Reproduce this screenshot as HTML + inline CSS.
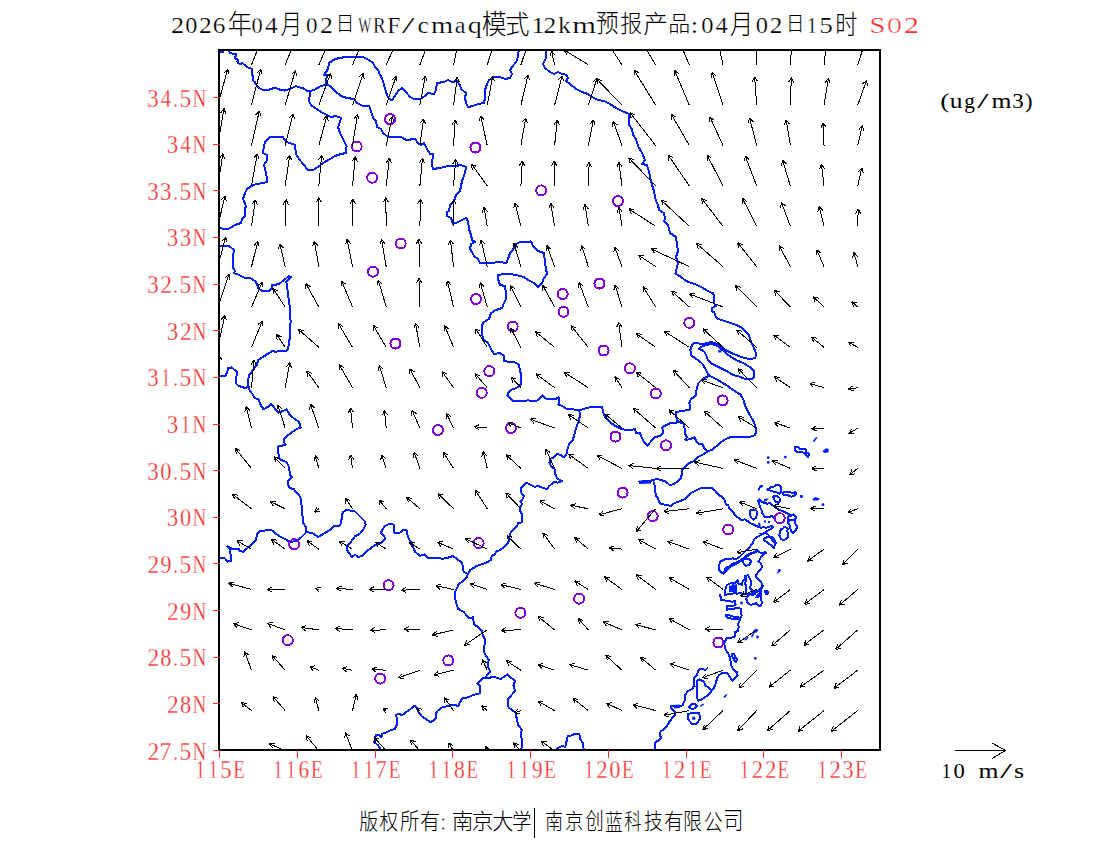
<!DOCTYPE html><html><head><meta charset="utf-8"><title>WRF/cmaq SO2</title><style>html,body{margin:0;padding:0;background:#fff;}svg{display:block;}</style></head><body>
<svg width="1100" height="850" viewBox="0 0 1100 850">
<rect width="1100" height="850" fill="#fff"/>
<defs><clipPath id="pc"><rect x="220" y="51" width="659" height="698"/></clipPath></defs>
<g clip-path="url(#pc)" fill="none" stroke="rgb(0,30,255)" stroke-width="2" stroke-linejoin="round" stroke-linecap="round" shape-rendering="crispEdges">
<polyline points="218,51.3 220.65,51.85 223.3,52.4"/>
<polyline points="228.2,50.6 230.3,53 233.2,53.8 236,53.8 236.3,55.2 234.6,58.4 236.7,58.7 238.1,59.8 237.4,61.9 238.5,63.3 240.6,64 242.3,62.9 244.5,65 248,67.5 251.5,68.6 252.2,70.3 252.2,74.6 252.9,76.7 253.3,80.9 255,82.3 256.5,85.2 259.3,88 263,90 265.67,89.8 268.33,89.6 271,89.4 274,87.4 276.5,88.4 279,89.4 282,90 285,90.6 288,89.6 291,88.6 293.5,87.3 296,86 299,87.4 303,88 305,89.5 307,91 311,91 313.5,90 316,89 319,87 321.5,86 324,85 327,84"/>
<polyline points="311,91 310,93 309.67,95.67 309.33,98.33 309,101 310,103 311,105 313,106.5 315,108 317,109.25 319,110.5 321,111.75 323,113 325,114 327,115 329,116 331,117 333.5,116.5 336,116 338.5,117 341,118 340,122 339,124.5 338,127 339,130 340,133 341,135 342,137 343,139 344.2,141.33 345.4,143.67 346.6,146 346.4,148.33 346.2,150.67 346,153 343.5,153.5 341,154 338,155 335,156 332.5,157.5 330,159 327.67,160.33 325.33,161.67 323,163 320.5,165 318,167 315.5,168.5 313,170 310.5,170 308,170 306.33,168 304.67,166 303,164 301,161.5 299,159 297.5,156.5 296,154 295.75,151.75 295.5,149.5 295.25,147.25 295,145 292.5,144 290,143 286,142 284.5,139.5 283,137 280,137 277,137 274.67,137 272.33,137 270,137 268,138.8 266,140.6 265,142.8 264,145 263.67,147.67 263.33,150.33 263,153 265,154 267,155 266.8,158 266.6,161 265.3,163 264,165 264.67,167.67 265.33,170.33 266,173 266.35,175.25 266.7,177.5 267.05,179.75 267.4,182 264.7,182.5 262,183 259.75,183.5 257.5,184 255.25,184.5 253,185 251,186.33 249,187.67 247,189 246,191 245,193 244,196 243,199 244,201.33 245,203.67 246,206 245,209 245,211.33 245,213.67 245,216 242,219 241,223 238,224 235,225 233,226.2 231,227.4 229,228.6 226,228.6 223,228.6 220,228.3 217,228"/>
<polyline points="327,84 326,81 326.5,78 327,75 324,75 325.33,73 326.67,71 328,69 328.5,66 329,63 331,61.67 333,60.33 335,59 337.5,58.5 340,58 342.5,57.5 345,57 347.5,56.9 350,56.8 352.5,56.7 355,56.6 357.67,56.73 360.33,56.87 363,57 365,58 367,59 369,60 371,61.5 373,63 374,65 375,67 378,70 379,72.5 380,75 382,78 382.67,80.33 383.33,82.67 384,85 384.75,87.5 385.5,90 386.25,92.5 387,95 388,97 389,99 392,100 393.5,98 395,96 396.5,93.5 398,91 400,89.5 402,88 404,90 406,92 408,94.5 410,97 412,98 414,99 417,99 420,99 422.5,97.5 425,96 428,93 431,93.5 434,94 435,92 436,90 436.33,87.67 436.67,85.33 437,83 439.33,82.67 441.67,82.33 444,82 446,81 448,80 450,81 452,82 454.5,81.5 457,81 458.5,83 460,85 461,89 463.5,91 466,93 465.5,95.5 465,98 465.5,100.5 466,103 467,105 468,107 470.5,106.5 473,106 475.5,105 478,104 481,103.5 484,103 484.5,100.5 485,98 485,95.33 485,92.67 485,90 486,87 487,84 488,82 489,80 491.5,78.5 494,77 497,77 500,77 502.5,78 505,79 507.5,78.5 510,78 511,76 512,74 511,72 510,70 512,67 514,64.5 516,62 517,59.5 518,57 518.25,54.75 518.5,52.5 518.75,50.25 519,48"/>
<polyline points="327,84 329,85.5 331,87 333,89 335,91 337,92.67 339,94.33 341,96 344,97 347,98 349.33,98.33 351.67,98.67 354,99 355.5,101 357,103 359,104 361,105 363,106 366,106 369,106 370,108.5 371,111 371.67,113.33 372.33,115.67 373,118 376,121 376.5,124 377,127 379,128 381,129 382,131 383,133 385.5,135 388,137 391,137 394,137 397,136.8 400,136.6 403,138 405,139.3 407,140.6 409.5,139.8 412,139 415,139 416.5,141 418,143 421,145 424,143 425,145 426,147 427,149 428.5,151.5 430,154 433,154 432.8,156.2 432.6,158.4 432.4,160.6 432.2,162.8 432,165 433,169 435.33,168.67 437.67,168.33 440,168 442.67,167.33 445.33,166.67 448,166 450.67,166 453.33,166 456,166 458.5,165.5 461,165 463.5,166 466,167 465.5,170 465,173 464,175.67 463,178.33 462,181 461.5,183.5 461,186 460.5,188.5 460,191 458,193 456,195 455,198 454,201 452,203 450,205 449.5,208 449,211 447,212 447,216 449,217 451,218 452,221 453,224 455.5,223 458,222 460,221 462,220 464,219 466,218 468,221 468.33,223.67 468.67,226.33 469,229 470,232 471,235 471.5,237.5 472,240 475,242 473,243 471,244 470.5,246.5 470,249 472,252 473,254 474,256 476,257.5 478,259 479,261 480,263 483,263 486,263 488.67,262.87 491.33,262.73 494,262.6 496.33,262.4 498.67,262.2 501,262 503.5,262.7 506,263.4 507,261.2 508,259 509,256 510,253 513,250 514,248 515,246 516,244 518,243 520,242 523,242 526,242 528.5,241.7 531,241.4 532,243.7 533,246 534.67,247.67 536.33,249.33 538,251 541,252 544,253 544.25,255.5 544.5,258 544.75,260.5 545,263 545.5,266 546,269 546.5,271.5 547,274 545.5,276 544,278 543,280.5 542,283 540,285 538,287 536,285 534,283 532,282 530,281 528,280 526,278.5 524,277 521.33,276.33 518.67,275.67 516,275 513,274.5 510,274 507,274 504,274 501,274.5 498,275 498,279 499,282 500,285 502.5,285.5 505,286 505.33,288.33 505.67,290.67 506,293 506,296 506,299 505,301 504,303 503,305.5 502,308 499,309 496,310 493.5,311.5 491,313 490,316 489,319 486.5,320.5 484,322 482,325 482,327.5 482,330 482,332.5 482,335 483,337.5 484,340 486,341.5 488,343 489,345 490,347 491,349 492.5,351.5 494,354 497,353.5 500,353 502,354.5 504,356 504,358.5 504,361 507,361.5 510,362.5 513.2,361.6 516.5,363.3 518.9,364.9 519.35,367.4 519.8,369.9 520.45,372.35 521.1,374.8 520.98,377.27 520.85,379.75 520.73,382.23 520.6,384.7 518.55,386.35 516.5,388 514,388.8 511.5,389.6 509.85,391.25 508.2,392.9 507.4,395.4 509.9,397.9 511.55,399.55 513.2,401.2 516.5,401.2 519.8,401.2 522.53,400.93 525.27,400.67 528,400.4 530.73,400.67 533.47,400.93 536.2,401.2 539.5,398.7 541.15,397.05 542.8,395.4 544.45,397.05 546.1,398.7 548.6,399.1 551.1,399.5 553.55,399.1 556,398.7 558.5,397.1 559.3,401.2 558.5,404.5 560.55,405.3 562.6,406.1 565.9,408.6 568.35,408.6 570.8,408.6 573.3,409.4 576.2,409.8 579.1,410.2 582.4,409.4 584.85,408.6 587.3,407.8 589.75,407.35 592.2,406.9 594.7,406.9 597.2,406.9 599.65,406.9 602.1,406.9 602.9,411.1 603.73,413.3 604.57,415.5 605.4,417.7 607.07,419.33 608.73,420.97 610.4,422.6 612.85,424.25 615.3,425.9 617.5,427 619.7,428.1 621.9,429.2 624.1,429.47 626.3,429.73 628.5,430 630.7,429.73 632.9,429.47 635.1,429.2 635.9,433.3 640,433.3 640.8,435.35 641.6,437.4 642.85,439.9 644.1,442.4 645.75,444.05 647.4,445.7 649.45,443.2 651.5,440.7 653.15,439.05 654.8,437.4 657.3,436.6 659.8,435.8 661.45,434.15 663.1,432.5 662.65,430 662.2,427.5 664.7,425.9 667.15,424.65 669.6,423.4 672.1,423.4 674.6,423.4 677.9,421.8 677.05,419.3 676.2,416.8 676.2,414.35 676.2,411.9 678.4,411.63 680.6,411.37 682.8,411.1 685.27,410.53 687.73,409.97 690.2,409.4 689.93,407.2 689.67,405 689.4,402.8 690.25,400.75 691.1,398.7 694.4,397.1 696,394.6 696.27,392.4 696.53,390.2 696.8,388 697.65,385.55 698.5,383.1 700.9,380.6 704.2,378.1 706.7,376.85 709.2,375.6"/>
<polyline points="579.1,410.2 579.9,414.4 579.63,416.6 579.37,418.8 579.1,421 577.4,424.2 576.6,426.7 575.8,429.2 575.23,431.4 574.67,433.6 574.1,435.8 573.3,438.25 572.5,440.7 570.85,442.35 569.2,444 568.35,446.45 567.5,448.9 567.1,451.4 566.7,453.9 565.05,455.55 563.4,457.2 560.1,454.7 556.8,453.9 554.4,457.2 552.3,458 550.2,458.8 549.4,462.1 550.25,464.15 551.1,466.2 554.4,468.7 554.8,471.2 555.2,473.7 556,475.75 556.8,477.8 560.1,480.2 561.8,481.1 559.75,481.9 557.7,482.7 554.4,481.9 551.1,484.4 548.6,486.8 546.9,489.3 544.85,488.5 542.8,487.7 540.35,486.85 537.9,486 534.6,486.8 531.3,485.2 528.85,483.95 526.4,482.7 523.9,485.2 522.25,486.85 520.6,488.5 521.05,490.75 521.5,493 524,496 523,498.5 520.5,501.5 522.2,504.1 520.5,506.5 519.7,509.8 521.4,513.1 522.2,516.4 522.2,519.3 522.2,522.2 518.1,523 517.2,526.3 515.15,527.95 513.1,529.6 510.6,532.9 509.8,534.95 509,537 509.8,539.5 508.6,541.55 507.4,543.6 505.3,545.65 503.2,547.7 499.9,550.2 497.85,551 495.8,551.8 495,554.3 491.7,555.9 490.9,560.1 488.85,561.3 486.8,562.5 484.3,563.35 481.8,564.2 479.35,565 476.9,565.8 474.7,567.2 472.5,568.6 470.3,570 469.05,572.05 467.8,574.1 467,577.4 465.35,579.05 463.7,580.7 461.25,582.3 458.8,583.9 457.95,586 457.1,588.1 455.9,590.15 454.7,592.2 454.97,594.93 455.23,597.67 455.5,600.4 456.33,603.17 457.17,605.93 458,608.7 460.85,610.35 463.7,612 465.37,613.9 467.03,615.8 468.7,617.7 470.3,618.5 472.8,616.9 473.2,619.35 473.6,621.8 474.7,624.9 476.75,626.15 478.8,627.4 480.45,629.45 482.1,631.5 482.9,635.6 484.15,637.7 485.4,639.8 485,642.25 484.6,644.7 484.33,646.9 484.07,649.1 483.8,651.3 485,653.75 486.2,656.2 488.7,659.5 488.3,662 487.9,664.5 488.7,668.6 490.4,671.9 488.75,673.55 487.1,675.2 485.4,677.7 489.5,678.5 491.2,676.8 493.4,677.1 495.6,677.4 497.8,677.7 500.2,679.3 502.3,678.05 504.4,676.8 507.6,674.4 509.25,676.05 510.9,677.7 513,679.3 515.1,680.9 514.25,683.4 513.4,685.9 514.25,688.35 515.1,690.8 513,693.3 510.9,695.8 509.25,697.45 507.6,699.1 507.9,701.83 508.2,704.57 508.5,707.3 511.8,709.8 513.85,711.45 515.9,713.1 516.3,715.95 516.7,718.8 517.27,721 517.83,723.2 518.4,725.4 520.05,727.45 521.7,729.5 521.25,732.4 520.8,735.3 521.37,737.5 521.93,739.7 522.5,741.9 522.08,744.42 521.65,746.95 521.22,749.48 520.8,752"/>
<polyline points="485.4,677.7 482.1,678.5 480.47,680.13 478.83,681.77 477.2,683.4 480.5,685.9 480.2,688.37 479.9,690.83 479.6,693.3 477.43,693.87 475.27,694.43 473.1,695 470.6,696.2 468.1,697.4 465.25,697.8 462.4,698.2 461.15,700.3 459.9,702.4 458.2,706 455,705 451.2,704.9 449.1,705.6 447,706.3 444.2,707 441.4,707.7 439.6,709.15 437.8,710.6 435.7,714.1 435.7,718.3 432.9,721.1 430.1,721.9 427.95,720.45 425.8,719 423.7,717.6 421.6,716.2 420.2,714.45 418.8,712.7 417.75,710.2 416.7,707.7 414.6,705.6 412.45,707.4 410.3,709.2 408.2,710.6 406.1,712 404,713.75 401.9,715.5 399,713.4 396.2,714.8 396.9,719 396.9,721.85 396.9,724.7 395.85,726.8 394.8,728.9 392.7,729.6 390.6,730.3 388.45,731.35 386.3,732.4 384.2,733.1 382.1,733.8 381.4,737.4 379.3,734.6 376.4,734.6 375,737.4 374.65,739.85 374.3,742.3 376.1,743.7 377.9,745.1 379.3,747.4 380.7,749.7 382.1,752"/>
<polyline points="546,48 546,51 545.87,53.67 545.73,56.33 545.6,59 544.3,61.5 543,64 544,66 545,68 547.5,70 550,72 552,73 554,74 556,73 558,72 560,73 562,74 566,74.6 568,78 566,81 568,82.5 570,84 572,85.67 574,87.33 576,89 578,90 580,91 582,92 585,93 588,94 590,95.5 592,97 594,98 596,99 598,100 601,100.5 604,101 606,102 608,103 610,104 612,105.33 614,106.67 616,108 618,109 620,110 622,111 624.33,112 626.67,113 629,114 629,116.2 629,118.4 629,120.6 629,122.8 629,125 630.5,127 632,129 632.5,132 633,135 634.5,137 636,139 636.67,141.33 637.33,143.67 638,146 639.33,148.33 640.67,150.67 642,153 643,155.33 644,157.67 645,160 643.5,162 642,164 644.5,164.5 647,165 648,169 649,171 649.5,174 650,177 651,181 652,185 653,188 654,191 654.5,194 655,197 656,201 657,203 658,205 658.5,207.5 659,210 661.5,211.5 664,213 664.5,216 665,219 664,221 666,223 668,225 668.67,227.67 669.33,230.33 670,233 673,235 676,237 676.33,239.67 676.67,242.33 677,245 677.5,248 678,251 677,254 676,257 677,260 678,263 677.33,265.67 676.67,268.33 676,271 675.5,273.5 677.4,274.67 679.3,275.83 681.2,277 683.3,278.8 685.4,280.6 687.9,281.65 690.4,282.7 692.5,283.4 694.6,284.1 696.7,284.8 699.55,286.2 702.4,287.6 704.27,288.8 706.13,290 708,291.2 710.5,292.25 713,293.3 714.4,296.1 714.4,298.7 714.4,301.3 714.4,303.9 715.8,306 712.2,308.1 712.2,311.6 714.4,312.4 715,315.2 717.2,318.7 719.65,319.4 722.1,320.1 724.95,321.15 727.8,322.2 730.13,322.93 732.47,323.67 734.8,324.4 736.93,325.33 739.07,326.27 741.2,327.2 742.95,328.95 744.7,330.7 746.85,332.85 749,335 749.7,337.33 750.4,339.67 751.1,342 752.5,344.85 753.9,347.7 754.95,350.5 756,353.3 755.65,355.75 755.3,358.2 752.85,358.6 750.4,359 747.55,358.6 744.7,358.2 741.9,357.15 739.1,356.1 736.25,355.05 733.4,354 730.6,352.6 727.8,351.2 724.2,349.1 722.45,347.65 720.7,346.2 718.6,345.15 716.5,344.1 714.35,343.05 712.2,342 708,342.7 705.2,343.4 702.4,344.1 698.1,343.4 693.9,343.4 691.8,345.5 691.1,347.65 690.4,349.8 690.75,352.6 691.1,355.4 693.2,356.8 695.3,358.2 697.75,360 700.2,361.8 702.6,364.1 703.8,366.15 705,368.2 706.25,370.7 707.5,373.2 709.2,375.6 711.25,376.65 713.3,377.7 715.35,378.75 717.4,379.8 719.48,381.02 721.55,382.25 723.62,383.48 725.7,384.7 727.75,386.15 729.8,387.6 731.85,389.05 733.9,390.5 736.1,391.87 738.3,393.23 740.5,394.6 741.75,396.65 743,398.7 743.8,401.17 744.6,403.63 745.4,406.1 746.42,408.18 747.45,410.25 748.48,412.32 749.5,414.4 750.9,416.87 752.3,419.33 753.7,421.8 754.5,424.27 755.3,426.73 756.1,429.2 755.7,432.1 755.3,435 752.85,435.8 750.4,436.6 748.08,436.76 745.76,436.92 743.44,437.08 741.12,437.24 738.8,437.4 736.55,437.4 734.3,437.4 732.05,437.4 729.8,437.4 726.9,438.65 724,439.9 721.95,441.55 719.9,443.2 717.45,445.25 715,447.3 712.5,449.8 710,450.6 707.5,451.4 705.05,453.05 702.6,454.7 700.15,455.95 697.7,457.2 695.6,459.25 693.5,461.3 691.45,462.15 689.4,463 687.35,464.6 685.3,466.2 683.65,468.3 682,470.4 681.8,474.7 680.6,478.2 678.2,481.2 674.7,483.5 672.35,484.4 670,485.3 667.65,483.25 665.3,481.2 662.95,480.6 660.6,480 657.1,478.8 653.5,480 651.15,480.6 648.8,481.2 646.45,481.2 644.1,481.2 641.75,481.5 639.4,481.8"/>
<polyline points="677.9,421.8 680.75,422.6 683.6,423.4 684.5,427.5 684.77,429.7 685.03,431.9 685.3,434.1 686.9,437.4 685.3,439.9 687.75,439.5 690.2,439.1 692.3,438.25 694.4,437.4 696,440.7 698.5,444 702.6,444 703.4,446.05 704.2,448.1 706.7,451.4 707.5,451.4"/>
<polyline points="653.5,481.8 654.7,485.3 655,488.25 655.3,491.2 655.9,495.3 658.2,498.8 659.4,503 661.8,504.1 665.3,504.7 668.25,505.3 671.2,505.9 672.95,504.45 674.7,503 677.65,501.9 680.6,500.8 684.1,499.4 685.85,497.95 687.6,496.5 689.4,494.7 691.2,492.9 693.55,491.75 695.9,490.6 697.87,489.6 699.83,488.6 701.8,487.6 704.15,487.6 706.5,487.6 708.85,487.6 711.2,487.6 713.17,489.37 715.37,490.87 717.1,492.9 720,495.9 722.52,496.94 724.2,499.1 725.02,501.87 726.4,504.4 728.47,505.6 729.14,507.91 730.6,509.6 732.39,511.01 733.8,512.8 735,515.6 738.1,517.5 741.1,519.8 744.9,519.4 748,521.3 751.1,523.6 754.9,525.1 757.9,526.6 761,527.8 763.3,526.92 765.6,527.8 768.6,527 772.5,525.9 773.2,527.4 770.9,528.9 767.9,530.5 765.6,532 763.3,533.5 761,535 757.9,536.6 755.6,538.1 754.3,539.2 752.8,543 751.29,544.89 749.8,546.8 746.7,549.9 743.6,552.9 740.6,556 737.5,558.3 735.2,559.23 732.9,558.3 729.1,559.1 725.3,559.1 722.2,560.6 719.9,562.1 719.2,565.9 718.8,569.8 720.7,572 723.8,573.6 726.1,571.3 728.3,568.2 731.4,565.9 735.2,564.4 737.08,563.14 739.1,562.1 742.1,559.8 744.4,557.5 746.7,555.2 749.8,553.7 752.8,552.9 755.9,551.4 757.4,549.9 758.9,552.2 762,552.9 765,552.2 765.8,552.9 763.5,554.5 761.2,556.8 759.7,559.8 758.2,561.3 760.5,562.9 762,565.9 761.2,569 758.9,571.3 756.6,574.3 755.9,576.6 757.4,578.9 759.7,580.5 762,583.5 762.8,586.6 761.2,589.6 760.5,592.7 761.2,595"/>
<polyline points="719.6,594.9 721.18,597.37 721.1,600.3 723.92,599.89 726.5,601.1 729.3,600.95 732.1,601.75 734.9,601.1 735.6,604.9 732.86,605.88 730.05,605.92 727.2,605.6 726.6,607.86 726.5,610.2 730.3,608.7 732.7,609.32 734.92,608.32 737.2,607.9 741,608.7 741.47,610.98 740.59,613.41 741.8,615.6 739.5,618.6 739.5,620.9 737.9,624 738.7,627 737.9,630.9 734.9,632.4 735.39,634.86 734.1,637 730.3,637.8 726.5,638.5 724.9,641.6 724.18,643.9 724.9,646.2 725.7,650 727.6,652.4 729.19,655.14 730,658.2 730.4,660.57 730.8,662.93 731.2,665.3 732.35,667.65 733.5,670 737.1,672.4 737.6,675.9 734.7,678.2 732.4,680.6 730,677.1 727.6,673.5 725.25,673.2 722.9,672.9 719.4,674.7 717.1,678.2 716.5,680.55 715.9,682.9 714.7,685.85 713.5,688.8 711.2,691.2"/>
<polyline points="707.5,668 705,670.5 703,668.5 700.6,668.8 698.2,671.2 697.35,673.55 696.5,675.9 693.5,678.2 693.7,680.57 693.9,682.93 694.1,685.3 692.4,688.8 690,690 687.6,691.2 685.3,694.7 685,697.65 684.7,700.6 683.8,702 683.2,704.5 681.2,706.1 678.65,705.8 676.1,705.5 673.5,705.8 670.9,706.1 670.6,707.4 672.8,709.7 675.1,712 675.1,714.9 672.2,718.1 669.6,721.4 668.3,723.65 667,725.9 665.4,727.5 663.8,729.1 660.5,731.7 659.6,735 660.9,736.9 660.9,738.2 657.9,740.8 655,742.4 654.7,745.3 654.7,747.53 654.7,749.77 654.7,752"/>
<polyline points="758.7,489.9 759.85,487.35 762.1,485.7"/>
<polyline points="757.9,500.6 759.5,499.5 761.4,501.4 764.1,502.9 767.1,503.7 770.2,502.9 772.5,505.2 775.5,507.5 778.6,509.8 781.6,510.6 784.7,512.1 787.8,513.6 790.8,515.2 793.9,514.8 796.2,516.7 795.4,519.8 793.1,520.5 790.8,519.8 788.5,521.3"/>
<polyline points="757.9,500.6 759.42,502.65 759.5,505.2 761,509 762.11,511.18 762.5,513.6 764.8,516.7 768.6,517.5 771.7,515.9 774,518.2"/>
<polyline points="760.2,533.5 762.98,533.78 765.6,532.8 768.6,535 770.9,538.1 773.2,541.2 776.3,543.5"/>
<polyline points="757.4,550.6 755,552.61 752,553.5 749.26,555.01 746.7,556.8 744.28,557.7 742.1,559.1 739.58,560.82 736.8,562.1 734.06,563.16 731.4,564.4 729.95,566.3 727.6,566.7 725.3,569 723.8,572.8"/>
<polyline points="745.2,575.9 746.18,578.26 745.99,580.68 745.14,583.12 745.74,585.49 746.07,587.88 745.63,590.31 745.9,592.7"/>
<polyline points="732.9,582.8 733.27,585.34 733.85,587.86 733.14,590.51 734,593"/>
<polyline points="217,245 220,245.5 223,246 226,246 229,246 231.5,248 234,250 233.67,252.33 233.33,254.67 233,257 232.9,259.5 232.8,262 232.7,264.5 232.6,267 233.8,269 235,271 234,273 236.5,274 239,275 241,276 243,277 245,278 247.5,278 250,278 252.5,279.5 255,281 257,284 258,288 260,289.5 262,291 264.5,290.8 267,290.6 269,291.4 270.5,289.7 272,288 272,285 276,284.6 279,284 281.5,282 284,280 286.5,278 289,276 291,277 289.33,278.67 287.67,280.33 286,282 287,284 287.2,286.2 287.4,288.4 287.6,290.6 287.8,292.8 288,295 288.47,297.67 288.93,300.33 289.4,303 289.55,305.5 289.7,308 289.85,310.5 290,313 290.2,315.67 290.4,318.33 290.6,321 290.48,323.4 290.36,325.8 290.24,328.2 290.12,330.6 290,333 289.8,335.67 289.6,338.33 289.4,341 288.93,343.67 288.47,346.33 288,349 286,351 283.67,351 281.33,351 279,351 275,352 273,350.6 271,351.8 269,353 267,354.33 265,355.67 263,357 260.5,358.5 258,360 257.5,362.5 257,365 254.95,367.45 252.9,369.9 251.53,371.8 250.17,373.7 248.8,375.6 248.5,378.1 248.2,380.6 247.9,383.1 248.47,385.57 249.03,388.03 249.6,390.5 251.25,392.55 252.9,394.6 254.5,397.9 256.6,398.7 258.7,399.5 259.5,402 260.3,404.5 261.95,406.95 263.6,409.4 265.65,408.15 267.7,406.9 269.35,405.3 271,403.7 272.65,405.75 274.3,407.8 276.35,410.25 278.4,412.7 280.45,411.9 282.5,411.1 284.6,410.25 286.7,409.4 287.8,411.33 288.9,413.27 290,415.2 292.05,416.85 294.1,418.5 296.55,420.15 299,421.8 299.85,424.65 300.7,427.5 298.6,428.35 296.5,429.2 294.05,430.85 291.6,432.5 289.55,434.15 287.5,435.8 285.85,437.45 284.2,439.1 284.2,442.4 285.8,444.8 281.7,445.7 278.4,446.5 278.4,448.7 278.4,450.9 278.4,453.1 278.8,455.95 279.2,458.8 282.5,460.5 284.6,461.3 286.7,462.1 287.9,464.6 289.1,467.1 289.4,469.83 289.7,472.57 290,475.3 292.4,477 290.77,478.63 289.13,480.27 287.5,481.9 288.3,484.8 289.1,487.7 291.6,488.5 294.1,489.3 295.7,491.8 297.35,493.45 299,495.1 300.7,498.3 300.97,500.5 301.23,502.7 301.5,504.9 301.77,507.63 302.03,510.37 302.3,513.1 302.5,515.58 302.7,518.05 302.9,520.52 303.1,523 305.6,526.3 305.75,529.2 305.9,532.1"/>
<polyline points="217,375.6 219.9,375.6 222.8,375.6 225.7,375.6 226.55,373.55 227.4,371.5 228.2,368.2 231.5,367.4 233.55,369.05 235.6,370.7 237.2,372.4 236.4,376.5 236.13,378.7 235.87,380.9 235.6,383.1 238.1,385.5 240.15,386.35 242.2,387.2 245.5,388 248.8,386.4"/>
<polyline points="305.9,532.1 309.05,532.5 312.2,532.9 314.13,534.27 316.07,535.63 318,537 320.85,535.35 323.7,533.7 325.9,532.33 328.1,530.97 330.3,529.6 331.95,527.95 333.6,526.3 335.8,526.03 338,525.77 340.2,525.5 340.73,523.03 341.27,520.57 341.8,518.1 342.25,515.2 342.7,512.3 344.75,511.05 346.8,509.8 349.53,510.37 352.27,510.93 355,511.5 356.65,513.15 358.3,514.8 359.95,516.45 361.6,518.1 363.25,519.75 364.9,521.4 365.7,524.6 364.45,527.1 363.2,529.6 361.55,531.65 359.9,533.7 357.45,534.95 355,536.2 353.37,538.4 351.73,540.6 350.1,542.8 348.45,544.45 346.8,546.1 347.2,548.55 347.6,551 348.97,552.93 350.33,554.87 351.7,556.8 355,555.1 358.3,556.8 362.4,556 364.33,554.07 366.27,552.13 368.2,550.2 370.4,548.53 372.6,546.87 374.8,545.2 377,544.4 379.2,543.6 381.4,542.8 383.45,540.75 385.5,538.7 383.8,535.4 380.5,532.9 381.87,530.7 383.23,528.5 384.6,526.3 387.1,525.05 389.6,523.8 393.7,524.6 393.97,527.37 394.23,530.13 394.5,532.9 397,532.9 399.5,532.9 402.8,530.4 406.9,530.4 407.3,533.3 407.7,536.2 408.95,538.65 410.2,541.1 411.45,543.6 412.7,546.1 413.9,548.95 415.1,551.8 417.6,553.9 420.1,556 422.15,555.15 424.2,554.3 425.85,555.95 427.5,557.6 429.95,558 432.4,558.4 434.9,558 437.4,557.6 439.85,558.25 442.3,558.9 444.75,558.4 447.2,557.9 450.1,556.95 453,556 455.05,557.6 457.1,559.2 459.6,560.85 462.1,562.5 462.5,565 462.9,567.5 463.7,571.6 465.75,572.85 467.8,574.1"/>
<polyline points="305.9,532.1 305.6,532.9 303.97,534.53 302.33,536.17 300.7,537.8 298.2,539.45 295.7,541.1 292.85,541.5 290,541.9 287.9,540.7 285.8,539.5 283.35,538.25 280.9,537 278.4,535.35 275.9,533.7 273.85,532.05 271.8,530.4 268.95,530.4 266.1,530.4 263.9,530.67 261.7,530.93 259.5,531.2 257,533.7 256.6,536.6 256.2,539.5 254.55,541.15 252.9,542.8 251.23,544.43 249.57,546.07 247.9,547.7 245.45,549.75 243,551.8 239.7,551 238.9,548.5 236.43,548.5 233.97,548.5 231.5,548.5 229,546.9 227.4,546.1 229.8,549.4 230.2,551.85 230.6,554.3 230.9,556.5 231.2,558.7 231.5,560.9 227.4,561.7 225.7,559.2 224.1,557.6 221.6,558.4 219.3,558 217,557.6"/>
<polyline points="557.1,752 557.1,748.5 559.55,747.25 562,746 565.3,746.8 565.92,744.12 566.55,741.45 567.17,738.77 567.8,736.1 570.25,735.7 572.7,735.3 574.4,733.7 576.85,733.7 579.3,733.7 579.7,736.15 580.1,738.6 581.35,740.65 582.6,742.7 583,745.03 583.4,747.35 583.8,749.67 584.2,752"/>
<polygon points="698.8,349.1 701,347 703.8,345.9 706.6,344.8 709.4,344.45 712.2,344.1 714.35,344.8 716.5,345.5 719.3,347 720.7,349.1 722.85,350.5 725,351.9 727.8,354.7 729.9,356.1 732,357.5 734.5,358.95 737,360.4 739.1,361.33 741.2,362.27 743.3,363.2 745.67,364.6 748.03,366 750.4,367.4 752.15,369.2 753.9,371 753.9,374.15 753.9,377.3 751.1,379.4 747.9,379.05 744.7,378.7 741.9,377.65 739.1,376.6 736.25,375.9 733.4,375.2 731.53,374.03 729.67,372.87 727.8,371.7 724.95,370.25 722.1,368.8 719.3,367.4 716.5,366 713.65,364.6 710.8,363.2 708,360.4 707.3,358.25 706.6,356.1 705.55,354 704.5,351.9 701.6,349.8 698.8,349.1"/>
<polygon points="697.1,680.6 699.4,679.4 701.75,680.6 704.1,681.8 705.3,685.3 708.8,687.6 711.2,691.2 708.8,694.7 705.3,697.1 701.8,699.4 698.2,700.6 697.35,698.25 696.5,695.9 696.8,692.95 697.1,690 696.5,686.5 696.8,683.55 697.1,680.6"/>
<polygon points="689,706.5 692,704.2 696,704.5 697,706.5 694,708.6 690,708.5 689,706.5"/>
<polygon points="688,714 691,713.25 694,712.5 696.5,712.75 699,713 699.75,715.5 700.5,718 698.75,720.75 697,723.5 694.5,723.75 692,724 690,721.5 688,719 688,716.5 688,714"/>
<polygon points="731.5,654 734,653.5 735.15,656.44 737,659 736,661.8 734.1,660.22 733,658 731.5,654"/>
<polygon points="725.7,615.5 728,614.5 730.44,615.64 733,616.5 735.99,617.05 739,617.5 739.5,619.5 736.25,618.75 733,619.5 730.63,618.31 728,618 725.7,615.5"/>
<polygon points="726.8,585 729.71,583.5 732.9,582.8 735.63,582.51 737.5,580.5 738.3,583.5 742.1,585 742.15,582.48 743.49,580.4 744.91,578.34 745.2,575.9 748.2,575.1 749.8,578.9 751.21,580.98 751.3,583.5 750.57,585.81 749.8,588.1 752.8,590.4 755.9,591.2 755.06,593.68 752.8,595 750.17,594.29 747.52,593.73 744.8,593.73 742.1,593.5 739.8,592.75 737.5,593.87 735.2,593.11 732.9,593.5 730.33,593.81 727.8,594.34 725.3,595 724.5,591.2 726.1,588.1 726.8,585"/>
<polygon points="762.4,586.5 759.3,589.6 757.11,591.57 754.8,593.4 752.38,593.13 750.2,594.2 747.1,596.5 746.3,598.8 747.1,601.8 748.44,604.04 750.9,604.9 753.59,604.05 756.3,603.3 759.3,606.4 761.1,604.71 762.4,602.6 760.8,599.76 760.9,596.5 758.54,596.45 756.3,597.2 757.78,595.21 759.6,593.41 760.52,591.1 760.81,588.43 762.4,586.5"/>
<polygon points="742.9,559.8 745.5,559.03 748.2,558.7 751.3,560.6 749.8,564.4 745.9,565.9 743.6,563.6 742.9,559.8"/>
<polygon points="750.3,510.6 753.3,509.4 756.4,510.6 757.2,514.4 755.6,518.2 753.3,519.8 751.1,517.5 749.9,514.4 750.3,510.6"/>
<polygon points="767.1,489.6 769.53,488.91 771.32,486.72 773.97,486.53 776.04,484.99 778.6,484.6 780.41,486.1 780.9,488.4 780.95,491.35 779.3,493.8 777.23,492.49 774.8,492.2 770.9,490.7 767.1,489.6"/>
<polygon points="782.4,492.6 784.98,491.78 787.58,491.94 790.19,492.14 792.82,493.02 795.4,492.2 796.2,494.5 793.9,496.1 791.3,496.63 788.89,495.6 786.41,495.1 783.9,494.9 782.4,492.6"/>
<polygon points="773.2,496.4 776.3,495.7 779.3,497.6 780.1,500.6 777.8,502.9 775.5,501.4 774,499.1 773.2,496.4"/>
<polygon points="788.5,515.9 791.04,515.88 793.1,514.4 796.2,516.7 795.17,518.89 795.4,521.3 795.46,523.83 796.9,525.9 796.57,528.34 795.4,530.5 793.1,532.8 790.8,530.5 790.23,528.23 790,525.9 787.8,522.1 787.87,518.97 788.5,515.9"/>
<polygon points="780.9,528.9 783.2,528.41 784.7,526.6 787.8,528.9 787.24,531.34 788.5,533.5 788.41,536.02 787,538.1 783.9,540.4 780.9,538.9 779.3,535 780.1,532 780.9,528.9"/>
<polygon points="763.5,539.9 765.45,537.86 768.1,536.9 770.48,536.72 772.7,537.6 774.33,539.66 775,542.2 774.63,545.25 774.2,548.3 771.2,545.3 768.1,543 765.9,541.3 763.5,539.9"/>
<polygon points="764.7,591.5 767,590.5 768.5,592.5 766.5,594.2 764.7,591.5"/>
<polygon points="795.3,447.1 797.1,446.5 799.4,448.8 802.35,448.8 805.3,448.8 806.5,452.4 809.4,454.1 807.6,457.1 805.3,454.1 801.8,451.8 799.45,452.1 797.1,452.4 795.3,450.6 795.3,447.1"/>
</g>
<g clip-path="url(#pc)" fill="rgb(0,30,255)">
<circle cx="801.5" cy="496.4" r="1.4"/>
<circle cx="768.2" cy="457.6" r="1.4"/>
<circle cx="768.2" cy="462.4" r="1.4"/>
<circle cx="785.3" cy="457.1" r="1.4"/>
<circle cx="801.2" cy="496.5" r="1.4"/>
<circle cx="823" cy="504.7" r="1.4"/>
<circle cx="760.9" cy="486.5" r="1.4"/>
<circle cx="755.3" cy="658.3" r="1.4"/>
<circle cx="734.2" cy="658.3" r="1.4"/>
<circle cx="779.1" cy="570.5" r="1.4"/>
<circle cx="757.5" cy="637" r="1.4"/>
<circle cx="741.5" cy="603" r="1.4"/>
<polygon points="699.5,706 703,703.5 704.2,704.5 701,706.8"/>
<polygon points="723,697.5 725.5,694.5 727.5,694.2 725.5,697.6"/>
<polygon points="744,640 747,637 748.8,637.5 746,640.6"/>
<polygon points="776.5,573 780,569.5 781.5,570 778,573.5"/>
<polygon points="751,636 755,630 757,629 754,634 752,638"/>
<polygon points="753,631 756,628.6 758.6,630 756,633"/>
<polygon points="764.1,499.1 768.6,498.3 767.1,500.6 764.1,502.2"/>
<polygon points="812.5,441.5 816,437 817.6,437.5 814.5,441.8"/>
<polygon points="822.5,451 826,448.2 828.8,449 828.5,452.5 824,453"/>
<polygon points="812.5,499 815,497 820,498.5 818,500.6 813,500.5"/>
<polygon points="692,717 695,716.5 695.5,719.5 692.5,720"/>
<polygon points="639,480.5 651,480.5 651,483.5 639,484"/>
<polygon points="718,350 721,350.2 721.5,352.5 718.5,352.5"/>
<polygon points="757.9,523 760,522.8 761,527.4 758.5,526"/>
<polygon points="764,520.5 766,520.5 766,522.5 764,522.5"/>
<polygon points="768,521 770,521 770,523 768,523"/>
<polygon points="729,586 737,584 737,592 729,592"/>
<polygon points="673.5,705 680,704.5 680,708 674,708.4"/>
</g>
<g fill="none" stroke="rgb(130,0,220)" stroke-width="2" shape-rendering="crispEdges">
<circle cx="390" cy="119.2" r="5"/>
<circle cx="356.7" cy="146.5" r="5"/>
<circle cx="475.5" cy="147.5" r="5"/>
<circle cx="372.2" cy="177.7" r="5"/>
<circle cx="541.2" cy="190.4" r="5"/>
<circle cx="618" cy="201.1" r="5"/>
<circle cx="400.7" cy="243.5" r="5"/>
<circle cx="373" cy="271.7" r="5"/>
<circle cx="599.5" cy="283.5" r="5"/>
<circle cx="562.7" cy="294" r="5"/>
<circle cx="476" cy="299.1" r="5"/>
<circle cx="563.5" cy="311.8" r="5"/>
<circle cx="689.3" cy="322.8" r="5"/>
<circle cx="512.7" cy="326.5" r="5"/>
<circle cx="395.5" cy="343.5" r="5"/>
<circle cx="603.6" cy="350.5" r="5"/>
<circle cx="629.9" cy="368.3" r="5"/>
<circle cx="489.3" cy="371.1" r="5"/>
<circle cx="481.7" cy="392.8" r="5"/>
<circle cx="655.8" cy="393.5" r="5"/>
<circle cx="722.6" cy="400.4" r="5"/>
<circle cx="437.9" cy="430.1" r="5"/>
<circle cx="511" cy="428.1" r="5"/>
<circle cx="615.5" cy="436.6" r="5"/>
<circle cx="666" cy="445.3" r="5"/>
<circle cx="622.6" cy="492.6" r="5"/>
<circle cx="652.7" cy="516.2" r="5"/>
<circle cx="728.3" cy="529.5" r="5"/>
<circle cx="779.7" cy="518.2" r="5"/>
<circle cx="294.1" cy="544.2" r="5"/>
<circle cx="478.6" cy="543.1" r="5"/>
<circle cx="388.6" cy="585.2" r="5"/>
<circle cx="579.1" cy="598.7" r="5"/>
<circle cx="520.4" cy="612.8" r="5"/>
<circle cx="287.8" cy="640.2" r="5"/>
<circle cx="718.4" cy="642.5" r="5"/>
<circle cx="448.3" cy="660.4" r="5"/>
<circle cx="380.2" cy="678.6" r="5"/>
</g>
<path clip-path="url(#pc)" fill="none" stroke="#000" stroke-width="1" shape-rendering="crispEdges" d="M251.48,64.8L263.12,35.8M285.16,64.8L297.24,35.8M318.84,64.8L331.36,35.8M352.52,64.8L365.28,35.8M386.2,64.8L399.4,35.8M419.88,64.8L430.92,35.8M453.56,64.8L459.64,35.8M487.24,64.8L496.76,35.8M520.92,64.8L530.68,35.8M621.96,64.8L602.84,35.8M655.64,64.8L637.96,35.8M689.32,64.8L676.88,35.8M723,64.8L716.6,35.8M756.68,64.8L755.32,35.8M790.36,64.8L792.24,35.8M824.04,64.8L827.36,35.8M857.72,64.8L867.08,35.8M554.6,64.8L551.5,51M550.05,56.3L551.5,51M555.08,55.17L551.5,51M588.28,64.8L564.2,50M566.99,54.74L564.2,50M569.69,50.34L564.2,50M219.5,356.8L222,359.6M217.8,105.16L227.7,69M223.93,73L227.7,69M228.91,74.37L227.7,69M251.48,105.16L260.7,69M257,73.07L260.7,69M262,74.34L260.7,69M285.16,105.16L295.4,70.4M291.55,74.33L295.4,70.4M296.5,75.79L295.4,70.4M318.84,105.16L330.7,73.2M326.59,76.85L330.7,73.2M331.43,78.65L330.7,73.2M352.52,105.16L363.2,73.2M359.21,76.99L363.2,73.2M364.11,78.62L363.2,73.2M386.2,105.16L396.2,76.1M392.18,79.85L396.2,76.1M397.06,81.53L396.2,76.1M419.88,105.16L425.3,76.1M421.87,80.4L425.3,76.1M426.95,81.35L425.3,76.1M453.56,105.16L457.3,77M454.1,81.47L457.3,77M459.22,82.15L457.3,77M487.24,105.16L492.8,76M489.35,80.29L492.8,76M494.43,81.25L492.8,76M520.92,105.16L528.1,74.8M524.47,78.93L528.1,74.8M529.5,80.12L528.1,74.8M554.6,105.16L562.2,75.7M558.49,79.76L562.2,75.7M563.49,81.05L562.2,75.7M588.28,105.16L597.2,77.9M593.24,81.71L597.2,77.9M598.14,83.32L597.2,77.9M621.96,105.16L596.6,78.8M598.11,84.09L596.6,78.8M601.83,80.51L596.6,78.8M655.64,105.16L634,70M634.35,75.49L634,70M638.74,72.78L634,70M689.32,105.16L674.6,70.4M674.12,75.88L674.6,70.4M678.87,73.86L674.6,70.4M723,105.16L712.2,72.4M711.27,77.82L712.2,72.4M716.17,76.2L712.2,72.4M756.68,105.16L754.6,76.6M752.38,81.63L754.6,76.6M757.53,81.26L754.6,76.6M790.36,105.16L791.3,77.5M788.55,82.27L791.3,77.5M793.72,82.44L791.3,77.5M824.04,105.16L828.5,78.3M825.16,82.67L828.5,78.3M830.25,83.51L828.5,78.3M857.72,105.16L866.6,80.3M862.53,84L866.6,80.3M867.4,85.74L866.6,80.3M217.8,145.52L224,108.5M220.65,112.86L224,108.5M225.74,113.72L224,108.5M251.48,145.52L259.3,110.8M255.71,114.97L259.3,110.8M260.75,116.1L259.3,110.8M285.16,145.52L293.2,113.6M289.51,117.68L293.2,113.6M294.52,118.94L293.2,113.6M318.84,145.52L327,115.6M323.23,119.61L327,115.6M328.21,120.96L327,115.6M352.52,145.52L357.5,114.2M354.19,118.59L357.5,114.2M359.29,119.4L357.5,114.2M386.2,145.52L392.3,116.5M388.77,120.72L392.3,116.5M393.83,121.78L392.3,116.5M419.88,145.52L423.6,118.7M420.38,123.16L423.6,118.7M425.49,123.86L423.6,118.7M453.56,145.52L455.2,119.8M452.31,124.48L455.2,119.8M457.47,124.81L455.2,119.8M487.24,145.52L480.6,115.6M479.13,120.9L480.6,115.6M484.17,119.78L480.6,115.6M520.92,145.52L525.7,117.8M522.33,122.15L525.7,117.8M527.42,123.02L525.7,117.8M554.6,145.52L557.3,119.8M554.23,124.36L557.3,119.8M559.36,124.9L557.3,119.8M588.28,145.52L593.5,119.8M590,124.05L593.5,119.8M595.06,125.07L593.5,119.8M621.96,145.52L613.2,121.2M612.42,126.64L613.2,121.2M617.27,124.89L613.2,121.2M655.64,145.52L630.2,112.8M631.14,118.22L630.2,112.8M635.22,115.05L630.2,112.8M689.32,145.52L671.3,114.2M671.48,119.7L671.3,114.2M675.96,117.12L671.3,114.2M723,145.52L710,117M709.66,122.49L710,117M714.36,120.35L710,117M756.68,145.52L749.5,117.8M748.22,123.15L749.5,117.8M753.22,121.85L749.5,117.8M790.36,145.52L786.2,119.8M784.43,125.01L786.2,119.8M789.52,124.18L786.2,119.8M824.04,145.52L823.4,122.6M820.95,127.53L823.4,122.6M826.12,127.38L823.4,122.6M857.72,145.52L862.4,125.5M858.78,129.64L862.4,125.5M863.81,130.82L862.4,125.5M217.8,185.88L222.9,153.7M219.59,158.09L222.9,153.7M224.69,158.9L222.9,153.7M251.48,185.88L257.3,153.7M253.89,158.02L257.3,153.7M258.98,158.94L257.3,153.7M285.16,185.88L289.8,155.1M286.52,159.52L289.8,155.1M291.63,160.29L289.8,155.1M318.84,185.88L321.7,155.1M318.68,159.7L321.7,155.1M323.82,160.17L321.7,155.1M352.52,185.88L355.3,156.5M352.27,161.09L355.3,156.5M357.41,161.58L355.3,156.5M386.2,185.88L389.4,157.9M386.28,162.43L389.4,157.9M391.41,163.02L389.4,157.9M419.88,185.88L422.5,158M419.47,162.59L422.5,158M424.62,163.08L422.5,158M453.56,185.88L455.7,159.3M452.74,163.93L455.7,159.3M457.88,164.35L455.7,159.3M487.24,185.88L471.5,164.1M472.25,169.55L471.5,164.1M476.44,166.52L471.5,164.1M520.92,185.88L522.3,160.8M519.46,165.51L522.3,160.8M524.61,165.79L522.3,160.8M554.6,185.88L554,160.8M551.53,165.72L554,160.8M556.7,165.59L554,160.8M588.28,185.88L589.2,162.2M586.43,166.95L589.2,162.2M591.59,167.15L589.2,162.2M621.96,185.88L618.9,162.2M616.96,167.35L618.9,162.2M622.08,166.69L618.9,162.2M655.64,185.88L628.7,157.9M630.21,163.19L628.7,157.9M633.93,159.61L628.7,157.9M689.32,185.88L668.2,155.1M668.82,160.57L668.2,155.1M673.08,157.64L668.2,155.1M723,185.88L707.1,155.1M707.03,160.6L707.1,155.1M711.62,158.23L707.1,155.1M756.68,185.88L745.2,156M744.53,161.46L745.2,156M749.35,159.61L745.2,156M790.36,185.88L782.5,160.2M781.45,165.6L782.5,160.2M786.39,164.09L782.5,160.2M824.04,185.88L821.5,164.2M819.5,169.32L821.5,164.2M824.63,168.72L821.5,164.2M857.72,185.88L861.8,167.8M858.21,171.97L861.8,167.8M863.25,173.11L861.8,167.8M217.8,226.24L224.9,196M221.28,200.14L224.9,196M226.3,201.32L224.9,196M251.48,226.24L255.4,199.7M252.14,204.13L255.4,199.7M257.24,204.88L255.4,199.7M285.16,226.24L286.1,199.7M283.35,204.46L286.1,199.7M288.51,204.64L286.1,199.7M318.84,226.24L318.9,197.5M316.31,202.35L318.9,197.5M321.47,202.36L318.9,197.5M352.52,226.24L352.7,198.9M350.09,203.74L352.7,198.9M355.25,203.77L352.7,198.9M386.2,226.24L385.8,197.5M383.29,202.39L385.8,197.5M388.45,202.32L385.8,197.5M419.88,226.24L420.5,198.9M417.81,203.7L420.5,198.9M422.97,203.81L420.5,198.9M453.56,226.24L453.7,199.7M451.09,204.54L453.7,199.7M456.26,204.57L453.7,199.7M487.24,226.24L484,207.3M482.27,212.52L484,207.3M487.36,211.65L484,207.3M520.92,226.24L515,203.1M513.7,208.44L515,203.1M518.71,207.16L515,203.1M554.6,226.24L550.6,203.1M548.88,208.33L550.6,203.1M553.97,207.45L550.6,203.1M588.28,226.24L585,204.5M583.17,209.69L585,204.5M588.28,208.92L585,204.5M621.96,226.24L618.9,207.3M617.13,212.51L618.9,207.3M622.22,211.68L618.9,207.3M655.64,226.24L628.7,208.8M631.37,213.61L628.7,208.8M634.18,209.27L628.7,208.8M689.32,226.24L661.4,200.3M663.2,205.5L661.4,200.3M666.72,201.71L661.4,200.3M723,226.24L701.5,198.3M702.42,203.72L701.5,198.3M706.51,200.57L701.5,198.3M756.68,226.24L742.4,198.3M742.31,203.8L742.4,198.3M746.91,201.45L742.4,198.3M790.36,226.24L781.4,202.3M780.68,207.75L781.4,202.3M785.52,205.94L781.4,202.3M824.04,226.24L819.2,206.5M817.85,211.83L819.2,206.5M822.86,210.6L819.2,206.5M857.72,226.24L858.2,208.8M855.49,213.58L858.2,208.8M860.65,213.73L858.2,208.8M217.8,266.6L225.7,237M221.95,241.03L225.7,237M226.94,242.36L225.7,237M251.48,266.6L257.9,241.2M254.21,245.28L257.9,241.2M259.21,246.54L257.9,241.2M285.16,266.6L279.9,244M278.49,249.32L279.9,244M283.52,248.14L279.9,244M318.84,266.6L314.3,241.2M312.61,246.43L314.3,241.2M317.7,245.53L314.3,241.2M352.52,266.6L347.1,239.2M345.51,244.46L347.1,239.2M350.58,243.46L347.1,239.2M386.2,266.6L381.5,239.2M379.78,244.42L381.5,239.2M384.87,243.55L381.5,239.2M419.88,266.6L418.8,238.8M416.41,243.75L418.8,238.8M421.57,243.55L418.8,238.8M453.56,266.6L450.4,239.8M448.4,244.93L450.4,239.8M453.53,244.32L450.4,239.8M487.24,266.6L481.1,239.8M479.67,245.11L481.1,239.8M484.7,243.96L481.1,239.8M520.92,266.6L513.9,243.5M512.84,248.9L513.9,243.5M517.78,247.4L513.9,243.5M554.6,266.6L546.9,245.5M546.14,250.95L546.9,245.5M550.99,249.18L546.9,245.5M588.28,266.6L581.6,245.5M580.6,250.91L581.6,245.5M585.53,249.35L581.6,245.5M621.96,266.6L614.6,246.9M613.88,252.35L614.6,246.9M618.72,250.55L614.6,246.9M655.64,266.6L638.6,255.3M641.22,260.14L638.6,255.3M644.07,255.83L638.6,255.3M689.32,266.6L651.2,248.9M654.52,253.29L651.2,248.9M656.69,248.6L651.2,248.9M723,266.6L696.4,243.5M698.37,248.63L696.4,243.5M701.76,244.73L696.4,243.5M756.68,266.6L737.6,242.6M738.6,248.01L737.6,242.6M742.64,244.79L737.6,242.6M790.36,266.6L779.1,245.5M779.11,251L779.1,245.5M783.66,248.57L779.1,245.5M824.04,266.6L816.7,249.7M816.27,255.18L816.7,249.7M821,253.13L816.7,249.7M857.72,266.6L853.9,252.5M852.68,257.86L853.9,252.5M857.66,256.51L853.9,252.5M217.8,306.96L229.1,274.2M225.08,277.95L229.1,274.2M229.96,279.63L229.1,274.2M251.48,306.96L262.4,281.9M258.09,285.32L262.4,281.9M262.83,287.38L262.4,281.9M285.16,306.96L272.9,288.4M273.42,293.88L272.9,288.4M277.73,291.03L272.9,288.4M318.84,306.96L305.9,283.6M305.99,289.1L305.9,283.6M310.51,286.6L305.9,283.6M352.52,306.96L341.5,280.7M341,286.18L341.5,280.7M345.76,284.18L341.5,280.7M386.2,306.96L378.2,279.9M377.1,285.29L378.2,279.9M382.05,283.82L378.2,279.9M419.88,306.96L418.9,277.9M416.48,282.84L418.9,277.9M421.64,282.67L418.9,277.9M453.56,306.96L447.3,280.7M445.91,286.02L447.3,280.7M450.94,284.83L447.3,280.7M487.24,306.96L480.3,282.7M479.15,288.08L480.3,282.7M484.12,286.66L480.3,282.7M520.92,306.96L510.5,285.5M510.3,291L510.5,285.5M514.94,288.74L510.5,285.5M554.6,306.96L542.9,285.5M542.96,291L542.9,285.5M547.49,288.53L542.9,285.5M588.28,306.96L579.1,282.7M578.4,288.16L579.1,282.7M583.23,286.33L579.1,282.7M621.96,306.96L614.9,284.7M613.91,290.11L614.9,284.7M618.83,288.55L614.9,284.7M655.64,306.96L643.2,286.9M643.56,292.39L643.2,286.9M647.95,289.67L643.2,286.9M689.32,306.96L671.8,291.2M673.68,296.37L671.8,291.2M677.14,292.53L671.8,291.2M723,306.96L689.6,294M693.19,298.16L689.6,294M695.06,293.35L689.6,294M756.68,306.96L735.4,285.5M736.99,290.77L735.4,285.5M740.65,287.13L735.4,285.5M790.36,306.96L774.3,290.3M775.81,295.59L774.3,290.3M779.53,292L774.3,290.3M824.04,306.96L813.3,296.8M815.05,302.01L813.3,296.8M818.6,298.26L813.3,296.8M857.72,306.96L851.7,301.6M853.61,306.76L851.7,301.6M857.04,302.9L851.7,301.6M217.8,347.32L224.9,315.2M221.33,319.38L224.9,315.2M226.37,320.5L224.9,315.2M251.48,347.32L262.4,320.8M258.16,324.31L262.4,320.8M262.94,326.27L262.4,320.8M285.16,347.32L276.6,334.4M277.13,339.87L276.6,334.4M281.43,337.02L276.6,334.4M318.84,347.32L298.3,329.3M300.25,334.44L298.3,329.3M303.65,330.56L298.3,329.3M352.52,347.32L338.4,323.6M338.67,329.09L338.4,323.6M343.1,326.45L338.4,323.6M386.2,347.32L373.1,325.1M373.34,330.59L373.1,325.1M377.79,327.97L373.1,325.1M419.88,347.32L415.5,323.1M413.82,328.34L415.5,323.1M418.91,327.42L415.5,323.1M453.56,347.32L444.5,325.5M443.98,330.98L444.5,325.5M448.75,328.99L444.5,325.5M487.24,347.32L475.7,328.7M476.06,334.19L475.7,328.7M480.45,331.47L475.7,328.7M520.92,347.32L510.5,327.9M510.52,333.4L510.5,327.9M515.07,330.96L510.5,327.9M554.6,347.32L535.3,331.6M537.43,336.67L535.3,331.6M540.7,332.66L535.3,331.6M588.28,347.32L571.2,325.9M572.21,331.31L571.2,325.9M576.25,328.09L571.2,325.9M621.96,347.32L618.6,322.2M616.68,327.36L618.6,322.2M621.8,326.67L618.6,322.2M655.64,347.32L636.1,333.5M638.57,338.41L636.1,333.5M641.56,334.2L636.1,333.5M689.32,347.32L664.3,331.2M666.98,336L664.3,331.2M669.78,331.66L664.3,331.2M723,347.32L702.9,328.7M704.71,333.89L702.9,328.7M708.22,330.11L702.9,328.7M756.68,347.32L736.8,330.1M738.78,335.23L736.8,330.1M742.16,331.33L736.8,330.1M790.36,347.32L773.5,334.9M775.88,339.86L773.5,334.9M778.94,335.7L773.5,334.9M824.04,347.32L811.6,337.2M813.74,342.27L811.6,337.2M817,338.26L811.6,337.2M857.72,347.32L848.3,342M851.26,346.64L848.3,342M853.8,342.14L848.3,342M251.48,387.68L254,359.8M250.99,364.4L254,359.8M256.13,364.87L254,359.8M285.16,387.68L289.8,362.6M286.38,366.91L289.8,362.6M291.46,367.84L289.8,362.6M318.84,387.68L306.8,371.1M307.56,376.55L306.8,371.1M311.74,373.51L306.8,371.1M352.52,387.68L339.2,364.6M339.39,370.1L339.2,364.6M343.86,367.52L339.2,364.6M386.2,387.68L379.3,365.4M378.27,370.8L379.3,365.4M383.2,369.27L379.3,365.4M419.88,387.68L409.8,368.8M409.81,374.3L409.8,368.8M414.36,371.87L409.8,368.8M453.56,387.68L442.1,371.6M442.82,377.05L442.1,371.6M447.02,374.06L442.1,371.6M487.24,387.68L475.2,373.9M476.45,379.26L475.2,373.9M480.34,375.86L475.2,373.9M520.92,387.68L511.3,377.3M512.71,382.62L511.3,377.3M516.49,379.11L511.3,377.3M554.6,387.68L535.9,373.9M538.28,378.86L535.9,373.9M541.34,374.7L535.9,373.9M588.28,387.68L564.1,372.2M566.8,376.99L564.1,372.2M569.58,372.64L564.1,372.2M621.96,387.68L614.9,376.7M615.35,382.18L614.9,376.7M619.7,379.39L614.9,376.7M655.64,387.68L636.1,372.2M638.3,377.24L636.1,372.2M641.51,373.19L636.1,372.2M689.32,387.68L673.2,370.2M674.59,375.52L673.2,370.2M678.39,372.02L673.2,370.2M723,387.68L701.5,380.1M705.22,384.15L701.5,380.1M706.94,379.28L701.5,380.1M756.68,387.68L738.2,368.8M739.75,374.08L738.2,368.8M743.44,370.46L738.2,368.8M790.36,387.68L774.3,376.7M776.85,381.57L774.3,376.7M779.77,377.31L774.3,376.7M824.04,387.68L809.6,383.5M813.55,387.33L809.6,383.5M814.98,382.37L809.6,383.5M857.72,387.68L848.3,389.2M853.51,390.98L848.3,389.2M852.68,385.88L848.3,389.2M251.48,428.04L246.1,406.4M244.77,411.74L246.1,406.4M249.78,410.49L246.1,406.4M285.16,428.04L277.7,405M276.74,410.42L277.7,405M281.65,408.82L277.7,405M318.84,428.04L310.4,404.1M309.58,409.54L310.4,404.1M314.45,407.82L310.4,404.1M352.52,428.04L350.5,407.8M348.41,412.89L350.5,407.8M353.55,412.38L350.5,407.8M386.2,428.04L384.4,410.3M382.32,415.39L384.4,410.3M387.46,414.87L384.4,410.3M419.88,428.04L412.1,410.3M411.69,415.78L412.1,410.3M416.42,413.71L412.1,410.3M453.56,428.04L446.5,413.4M446.28,418.9L446.5,413.4M450.94,416.65L446.5,413.4M487.24,428.04L474.3,426.7M478.86,429.77L474.3,426.7M479.4,424.63L474.3,426.7M520.92,428.04L507.6,422.5M511.09,426.75L507.6,422.5M513.08,421.98L507.6,422.5M554.6,428.04L530.2,419.1M533.87,423.2L530.2,419.1M535.65,418.35L530.2,419.1M588.28,428.04L568.4,414.6M570.98,419.46L568.4,414.6M573.87,415.18L568.4,414.6M621.96,428.04L605,414M607.09,419.09L605,414M610.39,415.11L605,414M655.64,428.04L633.3,408.4M635.24,413.55L633.3,408.4M638.65,409.67L633.3,408.4M689.32,428.04L669,409.8M670.89,414.97L669,409.8M674.34,411.12L669,409.8M723,428.04L704.3,411.2M706.18,416.37L704.3,411.2M709.64,412.53L704.3,411.2M756.68,428.04L738.2,416.8M741.01,421.53L738.2,416.8M743.69,417.12L738.2,416.8M790.36,428.04L774.3,422.5M778.05,426.52L774.3,422.5M779.73,421.64L774.3,422.5M824.04,428.04L811.6,428.7M816.59,431.02L811.6,428.7M816.31,425.86L811.6,428.7M857.72,428.04L848.9,433.8M854.38,433.31L848.9,433.8M851.55,428.98L848.9,433.8M251.48,468.4L235.3,448.4M236.35,453.8L235.3,448.4M240.36,450.55L235.3,448.4M285.16,468.4L274.3,456.9M275.76,462.2L274.3,456.9M279.51,458.66L274.3,456.9M318.84,468.4L315.2,455.8M314.07,461.18L315.2,455.8M319.03,459.75L315.2,455.8M352.52,468.4L350.5,454.9M348.66,460.08L350.5,454.9M353.77,459.32L350.5,454.9M386.2,468.4L381.6,454.9M380.72,460.33L381.6,454.9M385.61,458.66L381.6,454.9M419.88,468.4L414.1,452.1M413.29,457.54L414.1,452.1M418.16,455.81L414.1,452.1M453.56,468.4L443.3,452.4M443.75,457.88L443.3,452.4M448.09,455.09L443.3,452.4M487.24,468.4L483.1,451.6M481.75,456.93L483.1,451.6M486.77,455.7L483.1,451.6M520.92,468.4L506.2,454.9M508.03,460.09L506.2,454.9M511.52,456.28L506.2,454.9M554.6,468.4L545.8,449.3M545.49,454.79L545.8,449.3M550.18,452.63L545.8,449.3M588.28,468.4L568.4,454.1M570.83,459.03L568.4,454.1M573.85,454.84L568.4,454.1M621.96,468.4L597,455.4M600.11,459.93L597,455.4M602.5,455.35L597,455.4M655.64,468.4L628.5,465.5M633.05,468.58L628.5,465.5M633.6,463.45L628.5,465.5M689.32,468.4L656.3,468.5M661.16,471.07L656.3,468.5M661.15,465.9L656.3,468.5M723,468.4L694.4,462M698.58,465.58L694.4,462M699.7,460.54L694.4,462M756.68,468.4L733.9,459.7M737.52,463.84L733.9,459.7M739.36,459.02L733.9,459.7M790.36,468.4L772.1,460.6M775.55,464.88L772.1,460.6M777.58,460.13L772.1,460.6M824.04,468.4L811.6,468.5M816.48,471.04L811.6,468.5M816.44,465.88L811.6,468.5M857.72,468.4L849.7,474.7M855.11,473.73L849.7,474.7M851.92,469.67L849.7,474.7M251.48,508.76L232.5,494.3M234.8,499.3L232.5,494.3M237.93,495.19L232.5,494.3M285.16,508.76L270.1,501.4M273.33,505.85L270.1,501.4M275.6,501.21L270.1,501.4M318.84,508.76L314.6,512.2M320,511.15L314.6,512.2M316.74,507.14L314.6,512.2M352.52,508.76L345.4,498.3M346,503.77L345.4,498.3M350.27,500.86L345.4,498.3M386.2,508.76L379.1,500M380.15,505.4L379.1,500M384.16,502.15L379.1,500M419.88,508.76L406.4,497.2M408.41,502.32L406.4,497.2M411.77,498.4L406.4,497.2M453.56,508.76L438,493.6M439.68,498.84L438,493.6M443.28,495.14L438,493.6M487.24,508.76L475.5,490.5M475.95,495.98L475.5,490.5M480.3,493.19L475.5,490.5M520.92,508.76L505.7,492.9M507.2,498.19L505.7,492.9M510.93,494.62L505.7,492.9M554.6,508.76L539.6,500.7M542.66,505.27L539.6,500.7M545.1,500.72L539.6,500.7M588.28,508.76L570.6,505.2M574.85,508.69L570.6,505.2M575.87,503.63L570.6,505.2M621.96,508.76L598.8,514.8M604.15,516.07L598.8,514.8M602.85,511.08L598.8,514.8M655.64,508.76L636.1,531.8M641.21,529.77L636.1,531.8M637.27,526.43L636.1,531.8M689.32,508.76L663.6,511.6M668.71,513.63L663.6,511.6M668.14,508.5L663.6,511.6M723,508.76L696.4,513.2M701.62,514.95L696.4,513.2M700.76,509.85L696.4,513.2M756.68,508.76L739.6,501.9M743.14,506.11L739.6,501.9M745.07,501.31L739.6,501.9M790.36,508.76L773.5,505.6M777.8,509.03L773.5,505.6M778.75,503.96L773.5,505.6M824.04,508.76L810.5,508.5M815.31,511.17L810.5,508.5M815.4,506.01L810.5,508.5M857.72,508.76L847.7,512.6M853.16,513.27L847.7,512.6M851.31,508.45L847.7,512.6M251.48,549.12L237,540.8M239.92,545.46L237,540.8M242.5,540.98L237,540.8M285.16,549.12L271.5,539.4M273.96,544.32L271.5,539.4M276.95,540.11L271.5,539.4M318.84,549.12L306.8,540.8M309.33,545.68L306.8,540.8M312.26,541.44L306.8,540.8M352.52,549.12L339.2,541.4M342.11,546.07L339.2,541.4M344.7,541.6L339.2,541.4M386.2,549.12L375.4,542.2M378.1,546.99L375.4,542.2M380.88,542.65L375.4,542.2M419.88,549.12L409.3,542.2M411.95,547.02L409.3,542.2M414.78,542.7L409.3,542.2M453.56,549.12L437.3,542.2M440.76,546.48L437.3,542.2M442.78,541.73L437.3,542.2M487.24,549.12L465.3,538.6M468.56,543.03L465.3,538.6M470.8,538.37L465.3,538.6M520.92,549.12L506.8,535.7M508.54,540.92L506.8,535.7M512.1,537.17L506.8,535.7M554.6,549.12L542.9,532.9M543.65,538.35L542.9,532.9M547.84,535.33L542.9,532.9M588.28,549.12L574.6,537.4M576.61,542.52L574.6,537.4M579.97,538.6L574.6,537.4M621.96,549.12L609.3,547.9M613.89,550.94L609.3,547.9M614.38,545.8L609.3,547.9M655.64,549.12L638.4,539.4M641.36,544.03L638.4,539.4M643.9,539.54L638.4,539.4M689.32,549.12L667.6,541.4M671.31,545.46L667.6,541.4M673.04,540.59L667.6,541.4M723,549.12L702.9,541.4M706.51,545.55L702.9,541.4M708.36,540.73L702.9,541.4M756.68,549.12L736.8,552.7M742.04,554.38L736.8,552.7M741.12,549.3L736.8,552.7M790.36,549.12L773.5,557.8M779,557.87L773.5,557.8M776.64,553.28L773.5,557.8M824.04,549.12L807.4,561.2M812.85,560.44L807.4,561.2M809.81,556.26L807.4,561.2M857.72,549.12L842.6,564.8M847.83,563.1L842.6,564.8M844.11,559.51L842.6,564.8M251.48,589.48L228.6,583.2M232.6,586.98L228.6,583.2M233.97,582L228.6,583.2M285.16,589.48L267.2,589.4M272.04,592L267.2,589.4M272.07,586.84L267.2,589.4M318.84,589.48L315.2,588.3M319.02,592.25L315.2,588.3M320.62,587.34L315.2,588.3M352.52,589.48L336.4,588.3M341.05,591.23L336.4,588.3M341.43,586.08L336.4,588.3M386.2,589.48L368.9,589.4M373.74,592L368.9,589.4M373.77,586.84L368.9,589.4M419.88,589.48L401.4,590.2M406.35,592.59L401.4,590.2M406.15,587.43L401.4,590.2M453.56,589.48L435.7,585.7M439.92,589.23L435.7,585.7M440.99,584.18L435.7,585.7M487.24,589.48L470.1,583.7M473.88,587.7L470.1,583.7M475.53,582.81L470.1,583.7M520.92,589.48L500.6,584.6M504.72,588.24L500.6,584.6M505.92,583.22L500.6,584.6M554.6,589.48L534.5,583.2M538.37,587.11L534.5,583.2M539.91,582.18L534.5,583.2M588.28,589.48L574.6,580.9M577.34,585.67L574.6,580.9M580.09,581.29L574.6,580.9M621.96,589.48L604.2,576.7M606.63,581.63L604.2,576.7M609.65,577.44L604.2,576.7M655.64,589.48L636.1,574.7M638.42,579.69L636.1,574.7M641.53,575.57L636.1,574.7M689.32,589.48L669,577.5M671.87,582.19L669,577.5M674.49,577.74L669,577.5M723,589.48L706.6,577M708.9,582L706.6,577M712.03,577.89L706.6,577M756.68,589.48L740.4,595.9M745.86,596.52L740.4,595.9M743.97,591.72L740.4,595.9M790.36,589.48L773.5,602.4M778.93,601.5L773.5,602.4M775.78,597.4L773.5,602.4M824.04,589.48L804.5,604.4M809.93,603.51L804.5,604.4M806.79,599.4L804.5,604.4M857.72,589.48L839.3,605.2M844.67,604.01L839.3,605.2M841.32,600.08L839.3,605.2M251.48,629.84L233.4,623.6M237.15,627.63L233.4,623.6M238.83,622.74L233.4,623.6M285.16,629.84L267.2,623.3M270.88,627.39L267.2,623.3M272.65,622.54L267.2,623.3M318.84,629.84L301.1,627.5M305.58,630.69L301.1,627.5M306.25,625.58L301.1,627.5M352.52,629.84L335,628.4M339.63,631.37L335,628.4M340.05,626.22L335,628.4M386.2,629.84L370.3,630.3M375.23,632.74L370.3,630.3M375.08,627.58L370.3,630.3M419.88,629.84L404.2,628.9M408.89,631.77L404.2,628.9M409.2,626.61L404.2,628.9M453.56,629.84L432.4,635M437.73,636.36L432.4,635M436.51,631.34L432.4,635M487.24,629.84L464.4,645.3M469.87,644.72L464.4,645.3M466.97,640.44L464.4,645.3M520.92,629.84L501.2,630.3M506.12,632.77L501.2,630.3M505.99,627.61L501.2,630.3M554.6,629.84L538.1,616.5M540.25,621.56L538.1,616.5M543.5,617.55L538.1,616.5M588.28,629.84L578.2,618.5M579.5,623.85L578.2,618.5M583.36,620.41L578.2,618.5M621.96,629.84L603.1,621.9M606.57,626.16L603.1,621.9M608.58,621.4L603.1,621.9M655.64,629.84L635.5,624.7M639.57,628.4L635.5,624.7M640.84,623.4L635.5,624.7M689.32,629.84L669,618.5M671.98,623.12L669,618.5M674.5,618.61L669,618.5M723,629.84L705.1,628.9M709.81,631.73L705.1,628.9M710.08,626.58L705.1,628.9M756.68,629.84L737.6,643M743.06,642.37L737.6,643M740.13,638.12L737.6,643M790.36,629.84L771.5,646.1M776.86,644.88L771.5,646.1M773.49,640.97L771.5,646.1M824.04,629.84L803.7,645.3M809.13,644.42L803.7,645.3M806,640.31L803.7,645.3M857.72,629.84L835.6,649.5M840.95,648.2L835.6,649.5M837.51,644.34L835.6,649.5M251.48,670.2L244.6,651.5M243.85,656.95L244.6,651.5M248.7,655.17L244.6,651.5M285.16,670.2L272.3,655.7M273.59,661.05L272.3,655.7M277.45,657.62L272.3,655.7M318.84,670.2L309.6,666.5M313.15,670.7L309.6,666.5M315.07,665.91L309.6,666.5M352.52,670.2L342.1,668.4M346.45,671.77L342.1,668.4M347.32,666.68L342.1,668.4M386.2,670.2L371.7,669.3M376.39,672.18L371.7,669.3M376.71,667.02L371.7,669.3M419.88,670.2L398.5,677.8M403.94,678.61L398.5,677.8M402.21,673.74L398.5,677.8M453.56,670.2L434,675M439.33,676.35L434,675M438.1,671.33L434,675M487.24,670.2L482.2,659.4M481.91,664.89L482.2,659.4M486.59,662.71L482.2,659.4M520.92,670.2L506.2,660.8M508.9,665.59L506.2,660.8M511.68,661.24L506.2,660.8M554.6,670.2L538.1,664.5M541.85,668.53L538.1,664.5M543.53,663.65L538.1,664.5M588.28,670.2L569.2,664.5M573.11,668.36L569.2,664.5M574.59,663.42L569.2,664.5M621.96,670.2L605.6,655.2M607.43,660.39L605.6,655.2M610.92,656.58L605.6,655.2M655.64,670.2L640.4,657.2M642.42,662.32L640.4,657.2M645.77,658.39L640.4,657.2M689.32,670.2L669.8,663.6M673.57,667.6L669.8,663.6M675.23,662.71L669.8,663.6M723,670.2L702.5,677.8M707.95,678.53L702.5,677.8M706.16,673.69L702.5,677.8M756.68,670.2L738.9,688M744.16,686.39L738.9,688M740.51,682.74L738.9,688M790.36,670.2L768.9,687.2M774.31,686.21L768.9,687.2M771.1,682.16L768.9,687.2M824.04,670.2L799.9,687.2M805.36,686.52L799.9,687.2M802.38,682.29L799.9,687.2M857.72,670.2L833.8,688.3M839.23,687.43L833.8,688.3M836.11,683.31L833.8,688.3M251.48,710.56L241.2,702.5M243.43,707.53L241.2,702.5M246.61,703.46L241.2,702.5M285.16,710.56L273,696.6M274.24,701.96L273,696.6M278.14,698.57L273,696.6M318.84,710.56L315.3,697.3M314.06,702.66L315.3,697.3M319.05,701.33L315.3,697.3M352.52,710.56L356.4,694.2M352.77,698.33L356.4,694.2M357.79,699.52L356.4,694.2M386.2,710.56L382.9,708.3M385.45,713.17L382.9,708.3M388.37,708.91L382.9,708.3M419.88,710.56L416.9,708.8M419.77,713.49L416.9,708.8M422.39,709.05L416.9,708.8M453.56,710.56L444.3,697.9M445.08,703.34L444.3,697.9M449.25,700.3L444.3,697.9M487.24,710.56L481.5,705.8M483.59,710.89L481.5,705.8M486.89,706.91L481.5,705.8M520.92,710.56L514.5,712.8M519.94,713.64L514.5,712.8M518.23,708.76L514.5,712.8M554.6,710.56L538,701.1M540.94,705.75L538,701.1M543.5,701.26L538,701.1M588.28,710.56L573.1,698.5M575.3,703.54L573.1,698.5M578.51,699.5L573.1,698.5M621.96,710.56L606.3,703.2M609.6,707.6L606.3,703.2M611.79,702.93L606.3,703.2M655.64,710.56L632.9,704.7M636.96,708.41L632.9,704.7M638.25,703.41L632.9,704.7M689.32,710.56L663.7,715.4M668.95,717.04L663.7,715.4M667.99,711.96L663.7,715.4M723,710.56L702.7,729.8M708,728.33L702.7,729.8M704.45,724.59L702.7,729.8M756.68,710.56L737.7,730.6M742.91,728.85L737.7,730.6M739.16,725.3L737.7,730.6M790.36,710.56L767.4,730.6M772.76,729.35L767.4,730.6M769.36,725.46L767.4,730.6M824.04,710.56L797.9,731.4M803.31,730.39L797.9,731.4M800.09,726.35L797.9,731.4M857.72,710.56L831.1,731.4M836.52,730.44L831.1,731.4M833.33,726.37L831.1,731.4M285.16,750.92L269.1,743.5M272.43,747.88L269.1,743.5M274.59,743.19L269.1,743.5M318.84,750.92L306.2,735.7M307.32,741.09L306.2,735.7M311.29,737.79L306.2,735.7M352.52,750.92L345.4,732.6M344.75,738.06L345.4,732.6M349.57,736.19L345.4,732.6M386.2,750.92L374.2,737.3M375.47,742.65L374.2,737.3M379.35,739.24L374.2,737.3M419.88,750.92L410.4,739.8M411.59,745.17L410.4,739.8M415.52,741.82L410.4,739.8M453.56,750.92L448.4,742.8M448.83,748.28L448.4,742.8M453.18,745.51L448.4,742.8M487.24,750.92L485.5,746M484.68,751.44L485.5,746M489.55,749.72L485.5,746M520.92,750.92L513.3,742.8M514.74,748.11L513.3,742.8M518.51,744.57L513.3,742.8M554.6,750.92L541.1,741M543.48,745.96L541.1,741M546.54,741.79L541.1,741"/>
<rect x="219" y="50" width="661" height="700" fill="none" stroke="#000" stroke-width="2"/>
<path fill="none" stroke="rgb(250,45,45)" stroke-width="1" shape-rendering="crispEdges" d="M213,97.5H220M213,144.5H220M213,190.5H220M213,237.5H220M213,284.5H220M213,330.5H220M213,377.5H220M213,424.5H220M213,470.5H220M213,517.5H220M213,563.5H220M213,610.5H220M213,657.5H220M213,703.5H220M213,750.5H220M219.5,750V758M297.5,750V758M375.5,750V758M452.5,750V758M530.5,750V758M608.5,750V758M686.5,750V758M763.5,750V758M841.5,750V758"/>
<path fill="none" stroke="#000" stroke-width="1" shape-rendering="crispEdges" d="M955,750.5H1005.5M992,743L1005.5,750.5L992,758.5"/>
<path fill="none" stroke="#000" stroke-width="1" d="M534.5,808V838"/>
<text transform="matrix(0.2625,0,0,0.2318,170.95,33.40)" font-family="'Liberation Serif', serif" font-size="100" fill="#000" stroke="#fff" stroke-width="1.01">2</text>
<text transform="matrix(0.2429,0,0,0.2318,185.13,33.40)" font-family="'Liberation Serif', serif" font-size="100" fill="#000" stroke="#fff" stroke-width="1.05">0</text>
<text transform="matrix(0.2550,0,0,0.2318,198.88,33.40)" font-family="'Liberation Serif', serif" font-size="100" fill="#000" stroke="#fff" stroke-width="1.03">2</text>
<text transform="matrix(0.2535,0,0,0.2318,212.69,33.40)" font-family="'Liberation Serif', serif" font-size="100" fill="#000" stroke="#fff" stroke-width="1.03">6</text>
<text transform="matrix(0.2422,0,0,0.2696,227.79,34.14)" font-family="'Liberation Sans', 'Noto Sans CJK SC', 'WenQuanYi Zen Hei', sans-serif" font-size="100" font-weight="300" fill="#000">年</text>
<text transform="matrix(0.2238,0,0,0.2318,251.40,33.40)" font-family="'Liberation Serif', serif" font-size="100" fill="#000" stroke="#fff" stroke-width="1.10">0</text>
<text transform="matrix(0.2522,0,0,0.2318,264.90,33.40)" font-family="'Liberation Serif', serif" font-size="100" fill="#000" stroke="#fff" stroke-width="1.03">4</text>
<text transform="matrix(0.2169,0,0,0.2706,280.53,33.61)" font-family="'Liberation Sans', 'Noto Sans CJK SC', 'WenQuanYi Zen Hei', sans-serif" font-size="100" font-weight="300" fill="#000">月</text>
<text transform="matrix(0.2310,0,0,0.2318,306.08,33.40)" font-family="'Liberation Serif', serif" font-size="100" fill="#000" stroke="#fff" stroke-width="1.08">0</text>
<text transform="matrix(0.2575,0,0,0.2318,319.97,33.40)" font-family="'Liberation Serif', serif" font-size="100" fill="#000" stroke="#fff" stroke-width="1.02">2</text>
<text transform="matrix(0.1857,0,0,0.2024,335.77,30.58)" font-family="'Liberation Sans', 'Noto Sans CJK SC', 'WenQuanYi Zen Hei', sans-serif" font-size="100" font-weight="300" fill="#000">日</text>
<text transform="matrix(0.1394,0,0,0.2318,358.20,33.40)" font-family="'Liberation Serif', serif" font-size="100" fill="#000" stroke="#fff" stroke-width="1.39">W</text>
<text transform="matrix(0.1922,0,0,0.2318,372.92,33.40)" font-family="'Liberation Serif', serif" font-size="100" fill="#000" stroke="#fff" stroke-width="1.18">R</text>
<text transform="matrix(0.2367,0,0,0.2318,387.29,33.40)" font-family="'Liberation Serif', serif" font-size="100" fill="#000" stroke="#fff" stroke-width="1.07">F</text>
<text transform="matrix(0.4679,0,0,0.2318,401.80,33.40)" font-family="'Liberation Serif', serif" font-size="100" fill="#000" stroke="#fff" stroke-width="0.76">/</text>
<text transform="matrix(0.2568,0,0,0.2318,417.47,33.40)" font-family="'Liberation Serif', serif" font-size="100" fill="#000" stroke="#fff" stroke-width="1.02">c</text>
<text transform="matrix(0.2851,0,0,0.2318,431.03,33.40)" font-family="'Liberation Serif', serif" font-size="100" fill="#000" stroke="#fff" stroke-width="0.97">m</text>
<text transform="matrix(0.2436,0,0,0.2318,454.83,33.40)" font-family="'Liberation Serif', serif" font-size="100" fill="#000" stroke="#fff" stroke-width="1.05">a</text>
<text transform="matrix(0.2818,0,0,0.2318,467.77,33.40)" font-family="'Liberation Serif', serif" font-size="100" fill="#000" stroke="#fff" stroke-width="0.98">q</text>
<text transform="matrix(0.2484,0,0,0.2696,481.71,34.14)" font-family="'Liberation Sans', 'Noto Sans CJK SC', 'WenQuanYi Zen Hei', sans-serif" font-size="100" font-weight="300" fill="#000">模</text>
<text transform="matrix(0.2422,0,0,0.2637,505.25,33.89)" font-family="'Liberation Sans', 'Noto Sans CJK SC', 'WenQuanYi Zen Hei', sans-serif" font-size="100" font-weight="300" fill="#000">式</text>
<text transform="matrix(0.2714,0,0,0.2318,531.16,33.40)" font-family="'Liberation Serif', serif" font-size="100" fill="#000" stroke="#fff" stroke-width="1.00">1</text>
<text transform="matrix(0.2550,0,0,0.2318,543.48,33.40)" font-family="'Liberation Serif', serif" font-size="100" fill="#000" stroke="#fff" stroke-width="1.03">2</text>
<text transform="matrix(0.2563,0,0,0.2318,557.89,33.40)" font-family="'Liberation Serif', serif" font-size="100" fill="#000" stroke="#fff" stroke-width="1.03">k</text>
<text transform="matrix(0.3054,0,0,0.2318,572.29,33.40)" font-family="'Liberation Serif', serif" font-size="100" fill="#000" stroke="#fff" stroke-width="0.94">m</text>
<text transform="matrix(0.2275,0,0,0.2558,595.99,32.21)" font-family="'Liberation Sans', 'Noto Sans CJK SC', 'WenQuanYi Zen Hei', sans-serif" font-size="100" font-weight="300" fill="#000">预</text>
<text transform="matrix(0.2187,0,0,0.2391,620.23,32.09)" font-family="'Liberation Sans', 'Noto Sans CJK SC', 'WenQuanYi Zen Hei', sans-serif" font-size="100" font-weight="300" fill="#000">报</text>
<text transform="matrix(0.2483,0,0,0.2473,643.16,32.52)" font-family="'Liberation Sans', 'Noto Sans CJK SC', 'WenQuanYi Zen Hei', sans-serif" font-size="100" font-weight="300" fill="#000">产</text>
<text transform="matrix(0.2193,0,0,0.2184,668.33,31.25)" font-family="'Liberation Sans', 'Noto Sans CJK SC', 'WenQuanYi Zen Hei', sans-serif" font-size="100" font-weight="300" fill="#000">品</text>
<text transform="matrix(0.2833,0,0,0.2318,690.53,33.40)" font-family="'Liberation Serif', serif" font-size="100" fill="#000" stroke="#fff" stroke-width="0.98">:</text>
<text transform="matrix(0.2452,0,0,0.2318,701.32,33.40)" font-family="'Liberation Serif', serif" font-size="100" fill="#000" stroke="#fff" stroke-width="1.05">0</text>
<text transform="matrix(0.2435,0,0,0.2318,715.61,33.40)" font-family="'Liberation Serif', serif" font-size="100" fill="#000" stroke="#fff" stroke-width="1.05">4</text>
<text transform="matrix(0.2351,0,0,0.2706,729.86,33.61)" font-family="'Liberation Sans', 'Noto Sans CJK SC', 'WenQuanYi Zen Hei', sans-serif" font-size="100" font-weight="300" fill="#000">月</text>
<text transform="matrix(0.2452,0,0,0.2318,755.72,33.40)" font-family="'Liberation Serif', serif" font-size="100" fill="#000" stroke="#fff" stroke-width="1.05">0</text>
<text transform="matrix(0.2525,0,0,0.2318,769.79,33.40)" font-family="'Liberation Serif', serif" font-size="100" fill="#000" stroke="#fff" stroke-width="1.03">2</text>
<text transform="matrix(0.1841,0,0,0.2024,785.90,30.58)" font-family="'Liberation Sans', 'Noto Sans CJK SC', 'WenQuanYi Zen Hei', sans-serif" font-size="100" font-weight="300" fill="#000">日</text>
<text transform="matrix(0.1971,0,0,0.2318,806.93,33.40)" font-family="'Liberation Serif', serif" font-size="100" fill="#000" stroke="#fff" stroke-width="1.17">1</text>
<text transform="matrix(0.2725,0,0,0.2318,819.37,33.40)" font-family="'Liberation Serif', serif" font-size="100" fill="#000" stroke="#fff" stroke-width="0.99">5</text>
<text transform="matrix(0.2218,0,0,0.2667,835.30,34.13)" font-family="'Liberation Sans', 'Noto Sans CJK SC', 'WenQuanYi Zen Hei', sans-serif" font-size="100" font-weight="300" fill="#000">时</text>
<text transform="matrix(0.2857,0,0,0.2318,869.60,33.40)" font-family="'Liberation Serif', serif" font-size="100" fill="rgb(250,45,45)" stroke="#fff" stroke-width="0.97">S</text>
<text transform="matrix(0.1922,0,0,0.2318,887.53,33.40)" font-family="'Liberation Serif', serif" font-size="100" fill="rgb(250,45,45)" stroke="#fff" stroke-width="1.18">O</text>
<text transform="matrix(0.3000,0,0,0.2318,904.10,33.40)" font-family="'Liberation Serif', serif" font-size="100" fill="rgb(250,45,45)" stroke="#fff" stroke-width="0.95">2</text>
<text transform="matrix(0.2293,0,0,0.2485,147.35,106.50)" font-family="'Liberation Serif', serif" font-size="100" fill="rgb(250,45,45)" stroke="#fff" stroke-width="1.05">3</text>
<text transform="matrix(0.2043,0,0,0.2485,160.79,106.50)" font-family="'Liberation Serif', serif" font-size="100" fill="rgb(250,45,45)" stroke="#fff" stroke-width="1.11">4</text>
<text transform="matrix(0.1727,0,0,0.2485,173.59,106.50)" font-family="'Liberation Serif', serif" font-size="100" fill="rgb(250,45,45)" stroke="#fff" stroke-width="1.21">.</text>
<text transform="matrix(0.2350,0,0,0.2485,179.59,106.50)" font-family="'Liberation Serif', serif" font-size="100" fill="rgb(250,45,45)" stroke="#fff" stroke-width="1.03">5</text>
<text transform="matrix(0.1910,0,0,0.2485,192.53,106.50)" font-family="'Liberation Serif', serif" font-size="100" fill="rgb(250,45,45)" stroke="#fff" stroke-width="1.15">N</text>
<text transform="matrix(0.2293,0,0,0.2485,166.75,153.14)" font-family="'Liberation Serif', serif" font-size="100" fill="rgb(250,45,45)" stroke="#fff" stroke-width="1.05">3</text>
<text transform="matrix(0.2043,0,0,0.2485,180.59,153.14)" font-family="'Liberation Serif', serif" font-size="100" fill="rgb(250,45,45)" stroke="#fff" stroke-width="1.11">4</text>
<text transform="matrix(0.1910,0,0,0.2485,192.53,153.14)" font-family="'Liberation Serif', serif" font-size="100" fill="rgb(250,45,45)" stroke="#fff" stroke-width="1.15">N</text>
<text transform="matrix(0.2293,0,0,0.2485,147.35,199.79)" font-family="'Liberation Serif', serif" font-size="100" fill="rgb(250,45,45)" stroke="#fff" stroke-width="1.05">3</text>
<text transform="matrix(0.2293,0,0,0.2485,160.05,199.79)" font-family="'Liberation Serif', serif" font-size="100" fill="rgb(250,45,45)" stroke="#fff" stroke-width="1.05">3</text>
<text transform="matrix(0.1727,0,0,0.2485,173.59,199.79)" font-family="'Liberation Serif', serif" font-size="100" fill="rgb(250,45,45)" stroke="#fff" stroke-width="1.21">.</text>
<text transform="matrix(0.2350,0,0,0.2485,179.59,199.79)" font-family="'Liberation Serif', serif" font-size="100" fill="rgb(250,45,45)" stroke="#fff" stroke-width="1.03">5</text>
<text transform="matrix(0.1910,0,0,0.2485,192.53,199.79)" font-family="'Liberation Serif', serif" font-size="100" fill="rgb(250,45,45)" stroke="#fff" stroke-width="1.15">N</text>
<text transform="matrix(0.2293,0,0,0.2485,166.75,246.43)" font-family="'Liberation Serif', serif" font-size="100" fill="rgb(250,45,45)" stroke="#fff" stroke-width="1.05">3</text>
<text transform="matrix(0.2293,0,0,0.2485,179.85,246.43)" font-family="'Liberation Serif', serif" font-size="100" fill="rgb(250,45,45)" stroke="#fff" stroke-width="1.05">3</text>
<text transform="matrix(0.1910,0,0,0.2485,192.53,246.43)" font-family="'Liberation Serif', serif" font-size="100" fill="rgb(250,45,45)" stroke="#fff" stroke-width="1.15">N</text>
<text transform="matrix(0.2293,0,0,0.2485,147.35,293.07)" font-family="'Liberation Serif', serif" font-size="100" fill="rgb(250,45,45)" stroke="#fff" stroke-width="1.05">3</text>
<text transform="matrix(0.2350,0,0,0.2485,160.26,293.07)" font-family="'Liberation Serif', serif" font-size="100" fill="rgb(250,45,45)" stroke="#fff" stroke-width="1.03">2</text>
<text transform="matrix(0.1727,0,0,0.2485,173.59,293.07)" font-family="'Liberation Serif', serif" font-size="100" fill="rgb(250,45,45)" stroke="#fff" stroke-width="1.21">.</text>
<text transform="matrix(0.2350,0,0,0.2485,179.59,293.07)" font-family="'Liberation Serif', serif" font-size="100" fill="rgb(250,45,45)" stroke="#fff" stroke-width="1.03">5</text>
<text transform="matrix(0.1910,0,0,0.2485,192.53,293.07)" font-family="'Liberation Serif', serif" font-size="100" fill="rgb(250,45,45)" stroke="#fff" stroke-width="1.15">N</text>
<text transform="matrix(0.2293,0,0,0.2485,166.75,339.72)" font-family="'Liberation Serif', serif" font-size="100" fill="rgb(250,45,45)" stroke="#fff" stroke-width="1.05">3</text>
<text transform="matrix(0.2350,0,0,0.2485,180.06,339.72)" font-family="'Liberation Serif', serif" font-size="100" fill="rgb(250,45,45)" stroke="#fff" stroke-width="1.03">2</text>
<text transform="matrix(0.1910,0,0,0.2485,192.53,339.72)" font-family="'Liberation Serif', serif" font-size="100" fill="rgb(250,45,45)" stroke="#fff" stroke-width="1.15">N</text>
<text transform="matrix(0.2293,0,0,0.2485,147.35,386.36)" font-family="'Liberation Serif', serif" font-size="100" fill="rgb(250,45,45)" stroke="#fff" stroke-width="1.05">3</text>
<text transform="matrix(0.1714,0,0,0.2485,161.56,386.36)" font-family="'Liberation Serif', serif" font-size="100" fill="rgb(250,45,45)" stroke="#fff" stroke-width="1.21">1</text>
<text transform="matrix(0.1727,0,0,0.2485,173.59,386.36)" font-family="'Liberation Serif', serif" font-size="100" fill="rgb(250,45,45)" stroke="#fff" stroke-width="1.21">.</text>
<text transform="matrix(0.2350,0,0,0.2485,179.59,386.36)" font-family="'Liberation Serif', serif" font-size="100" fill="rgb(250,45,45)" stroke="#fff" stroke-width="1.03">5</text>
<text transform="matrix(0.1910,0,0,0.2485,192.53,386.36)" font-family="'Liberation Serif', serif" font-size="100" fill="rgb(250,45,45)" stroke="#fff" stroke-width="1.15">N</text>
<text transform="matrix(0.2293,0,0,0.2485,166.75,433.00)" font-family="'Liberation Serif', serif" font-size="100" fill="rgb(250,45,45)" stroke="#fff" stroke-width="1.05">3</text>
<text transform="matrix(0.1714,0,0,0.2485,181.36,433.00)" font-family="'Liberation Serif', serif" font-size="100" fill="rgb(250,45,45)" stroke="#fff" stroke-width="1.21">1</text>
<text transform="matrix(0.1910,0,0,0.2485,192.53,433.00)" font-family="'Liberation Serif', serif" font-size="100" fill="rgb(250,45,45)" stroke="#fff" stroke-width="1.15">N</text>
<text transform="matrix(0.2293,0,0,0.2485,147.35,479.64)" font-family="'Liberation Serif', serif" font-size="100" fill="rgb(250,45,45)" stroke="#fff" stroke-width="1.05">3</text>
<text transform="matrix(0.2238,0,0,0.2485,160.30,479.64)" font-family="'Liberation Serif', serif" font-size="100" fill="rgb(250,45,45)" stroke="#fff" stroke-width="1.06">0</text>
<text transform="matrix(0.1727,0,0,0.2485,173.59,479.64)" font-family="'Liberation Serif', serif" font-size="100" fill="rgb(250,45,45)" stroke="#fff" stroke-width="1.21">.</text>
<text transform="matrix(0.2350,0,0,0.2485,179.59,479.64)" font-family="'Liberation Serif', serif" font-size="100" fill="rgb(250,45,45)" stroke="#fff" stroke-width="1.03">5</text>
<text transform="matrix(0.1910,0,0,0.2485,192.53,479.64)" font-family="'Liberation Serif', serif" font-size="100" fill="rgb(250,45,45)" stroke="#fff" stroke-width="1.15">N</text>
<text transform="matrix(0.2293,0,0,0.2485,166.75,526.29)" font-family="'Liberation Serif', serif" font-size="100" fill="rgb(250,45,45)" stroke="#fff" stroke-width="1.05">3</text>
<text transform="matrix(0.2238,0,0,0.2485,180.10,526.29)" font-family="'Liberation Serif', serif" font-size="100" fill="rgb(250,45,45)" stroke="#fff" stroke-width="1.06">0</text>
<text transform="matrix(0.1910,0,0,0.2485,192.53,526.29)" font-family="'Liberation Serif', serif" font-size="100" fill="rgb(250,45,45)" stroke="#fff" stroke-width="1.15">N</text>
<text transform="matrix(0.2350,0,0,0.2485,147.56,572.93)" font-family="'Liberation Serif', serif" font-size="100" fill="rgb(250,45,45)" stroke="#fff" stroke-width="1.03">2</text>
<text transform="matrix(0.2186,0,0,0.2485,160.54,572.93)" font-family="'Liberation Serif', serif" font-size="100" fill="rgb(250,45,45)" stroke="#fff" stroke-width="1.07">9</text>
<text transform="matrix(0.1727,0,0,0.2485,173.59,572.93)" font-family="'Liberation Serif', serif" font-size="100" fill="rgb(250,45,45)" stroke="#fff" stroke-width="1.21">.</text>
<text transform="matrix(0.2350,0,0,0.2485,179.59,572.93)" font-family="'Liberation Serif', serif" font-size="100" fill="rgb(250,45,45)" stroke="#fff" stroke-width="1.03">5</text>
<text transform="matrix(0.1910,0,0,0.2485,192.53,572.93)" font-family="'Liberation Serif', serif" font-size="100" fill="rgb(250,45,45)" stroke="#fff" stroke-width="1.15">N</text>
<text transform="matrix(0.2350,0,0,0.2485,166.96,619.57)" font-family="'Liberation Serif', serif" font-size="100" fill="rgb(250,45,45)" stroke="#fff" stroke-width="1.03">2</text>
<text transform="matrix(0.2186,0,0,0.2485,180.34,619.57)" font-family="'Liberation Serif', serif" font-size="100" fill="rgb(250,45,45)" stroke="#fff" stroke-width="1.07">9</text>
<text transform="matrix(0.1910,0,0,0.2485,192.53,619.57)" font-family="'Liberation Serif', serif" font-size="100" fill="rgb(250,45,45)" stroke="#fff" stroke-width="1.15">N</text>
<text transform="matrix(0.2350,0,0,0.2485,147.56,666.22)" font-family="'Liberation Serif', serif" font-size="100" fill="rgb(250,45,45)" stroke="#fff" stroke-width="1.03">2</text>
<text transform="matrix(0.2238,0,0,0.2485,160.30,666.22)" font-family="'Liberation Serif', serif" font-size="100" fill="rgb(250,45,45)" stroke="#fff" stroke-width="1.06">8</text>
<text transform="matrix(0.1727,0,0,0.2485,173.59,666.22)" font-family="'Liberation Serif', serif" font-size="100" fill="rgb(250,45,45)" stroke="#fff" stroke-width="1.21">.</text>
<text transform="matrix(0.2350,0,0,0.2485,179.59,666.22)" font-family="'Liberation Serif', serif" font-size="100" fill="rgb(250,45,45)" stroke="#fff" stroke-width="1.03">5</text>
<text transform="matrix(0.1910,0,0,0.2485,192.53,666.22)" font-family="'Liberation Serif', serif" font-size="100" fill="rgb(250,45,45)" stroke="#fff" stroke-width="1.15">N</text>
<text transform="matrix(0.2350,0,0,0.2485,166.96,712.86)" font-family="'Liberation Serif', serif" font-size="100" fill="rgb(250,45,45)" stroke="#fff" stroke-width="1.03">2</text>
<text transform="matrix(0.2238,0,0,0.2485,180.10,712.86)" font-family="'Liberation Serif', serif" font-size="100" fill="rgb(250,45,45)" stroke="#fff" stroke-width="1.06">8</text>
<text transform="matrix(0.1910,0,0,0.2485,192.53,712.86)" font-family="'Liberation Serif', serif" font-size="100" fill="rgb(250,45,45)" stroke="#fff" stroke-width="1.15">N</text>
<text transform="matrix(0.2350,0,0,0.2485,147.56,759.50)" font-family="'Liberation Serif', serif" font-size="100" fill="rgb(250,45,45)" stroke="#fff" stroke-width="1.03">2</text>
<text transform="matrix(0.2350,0,0,0.2485,159.55,759.50)" font-family="'Liberation Serif', serif" font-size="100" fill="rgb(250,45,45)" stroke="#fff" stroke-width="1.03">7</text>
<text transform="matrix(0.1727,0,0,0.2485,173.59,759.50)" font-family="'Liberation Serif', serif" font-size="100" fill="rgb(250,45,45)" stroke="#fff" stroke-width="1.21">.</text>
<text transform="matrix(0.2350,0,0,0.2485,179.59,759.50)" font-family="'Liberation Serif', serif" font-size="100" fill="rgb(250,45,45)" stroke="#fff" stroke-width="1.03">5</text>
<text transform="matrix(0.1910,0,0,0.2485,192.53,759.50)" font-family="'Liberation Serif', serif" font-size="100" fill="rgb(250,45,45)" stroke="#fff" stroke-width="1.15">N</text>
<text transform="matrix(0.1800,0,0,0.2439,195.68,777.90)" font-family="'Liberation Serif', serif" font-size="100" fill="rgb(250,45,45)" stroke="#fff" stroke-width="1.19">1</text>
<text transform="matrix(0.1800,0,0,0.2439,208.68,777.90)" font-family="'Liberation Serif', serif" font-size="100" fill="rgb(250,45,45)" stroke="#fff" stroke-width="1.19">1</text>
<text transform="matrix(0.2275,0,0,0.2439,220.33,777.90)" font-family="'Liberation Serif', serif" font-size="100" fill="rgb(250,45,45)" stroke="#fff" stroke-width="1.06">5</text>
<text transform="matrix(0.1906,0,0,0.2439,233.23,777.90)" font-family="'Liberation Serif', serif" font-size="100" fill="rgb(250,45,45)" stroke="#fff" stroke-width="1.16">E</text>
<text transform="matrix(0.1800,0,0,0.2439,273.43,777.90)" font-family="'Liberation Serif', serif" font-size="100" fill="rgb(250,45,45)" stroke="#fff" stroke-width="1.19">1</text>
<text transform="matrix(0.1800,0,0,0.2439,286.43,777.90)" font-family="'Liberation Serif', serif" font-size="100" fill="rgb(250,45,45)" stroke="#fff" stroke-width="1.19">1</text>
<text transform="matrix(0.2116,0,0,0.2439,298.60,777.90)" font-family="'Liberation Serif', serif" font-size="100" fill="rgb(250,45,45)" stroke="#fff" stroke-width="1.10">6</text>
<text transform="matrix(0.1906,0,0,0.2439,310.98,777.90)" font-family="'Liberation Serif', serif" font-size="100" fill="rgb(250,45,45)" stroke="#fff" stroke-width="1.16">E</text>
<text transform="matrix(0.1800,0,0,0.2439,351.18,777.90)" font-family="'Liberation Serif', serif" font-size="100" fill="rgb(250,45,45)" stroke="#fff" stroke-width="1.19">1</text>
<text transform="matrix(0.1800,0,0,0.2439,364.18,777.90)" font-family="'Liberation Serif', serif" font-size="100" fill="rgb(250,45,45)" stroke="#fff" stroke-width="1.19">1</text>
<text transform="matrix(0.2275,0,0,0.2439,375.61,777.90)" font-family="'Liberation Serif', serif" font-size="100" fill="rgb(250,45,45)" stroke="#fff" stroke-width="1.06">7</text>
<text transform="matrix(0.1906,0,0,0.2439,388.73,777.90)" font-family="'Liberation Serif', serif" font-size="100" fill="rgb(250,45,45)" stroke="#fff" stroke-width="1.16">E</text>
<text transform="matrix(0.1800,0,0,0.2439,428.93,777.90)" font-family="'Liberation Serif', serif" font-size="100" fill="rgb(250,45,45)" stroke="#fff" stroke-width="1.19">1</text>
<text transform="matrix(0.1800,0,0,0.2439,441.93,777.90)" font-family="'Liberation Serif', serif" font-size="100" fill="rgb(250,45,45)" stroke="#fff" stroke-width="1.19">1</text>
<text transform="matrix(0.2167,0,0,0.2439,454.08,777.90)" font-family="'Liberation Serif', serif" font-size="100" fill="rgb(250,45,45)" stroke="#fff" stroke-width="1.09">8</text>
<text transform="matrix(0.1906,0,0,0.2439,466.48,777.90)" font-family="'Liberation Serif', serif" font-size="100" fill="rgb(250,45,45)" stroke="#fff" stroke-width="1.16">E</text>
<text transform="matrix(0.1800,0,0,0.2439,506.68,777.90)" font-family="'Liberation Serif', serif" font-size="100" fill="rgb(250,45,45)" stroke="#fff" stroke-width="1.19">1</text>
<text transform="matrix(0.1800,0,0,0.2439,519.68,777.90)" font-family="'Liberation Serif', serif" font-size="100" fill="rgb(250,45,45)" stroke="#fff" stroke-width="1.19">1</text>
<text transform="matrix(0.2116,0,0,0.2439,532.07,777.90)" font-family="'Liberation Serif', serif" font-size="100" fill="rgb(250,45,45)" stroke="#fff" stroke-width="1.10">9</text>
<text transform="matrix(0.1906,0,0,0.2439,544.23,777.90)" font-family="'Liberation Serif', serif" font-size="100" fill="rgb(250,45,45)" stroke="#fff" stroke-width="1.16">E</text>
<text transform="matrix(0.1800,0,0,0.2439,584.43,777.90)" font-family="'Liberation Serif', serif" font-size="100" fill="rgb(250,45,45)" stroke="#fff" stroke-width="1.19">1</text>
<text transform="matrix(0.2275,0,0,0.2439,596.34,777.90)" font-family="'Liberation Serif', serif" font-size="100" fill="rgb(250,45,45)" stroke="#fff" stroke-width="1.06">2</text>
<text transform="matrix(0.2167,0,0,0.2439,609.58,777.90)" font-family="'Liberation Serif', serif" font-size="100" fill="rgb(250,45,45)" stroke="#fff" stroke-width="1.09">0</text>
<text transform="matrix(0.1906,0,0,0.2439,621.98,777.90)" font-family="'Liberation Serif', serif" font-size="100" fill="rgb(250,45,45)" stroke="#fff" stroke-width="1.16">E</text>
<text transform="matrix(0.1800,0,0,0.2439,662.18,777.90)" font-family="'Liberation Serif', serif" font-size="100" fill="rgb(250,45,45)" stroke="#fff" stroke-width="1.19">1</text>
<text transform="matrix(0.2275,0,0,0.2439,674.09,777.90)" font-family="'Liberation Serif', serif" font-size="100" fill="rgb(250,45,45)" stroke="#fff" stroke-width="1.06">2</text>
<text transform="matrix(0.1800,0,0,0.2439,688.38,777.90)" font-family="'Liberation Serif', serif" font-size="100" fill="rgb(250,45,45)" stroke="#fff" stroke-width="1.19">1</text>
<text transform="matrix(0.1906,0,0,0.2439,699.73,777.90)" font-family="'Liberation Serif', serif" font-size="100" fill="rgb(250,45,45)" stroke="#fff" stroke-width="1.16">E</text>
<text transform="matrix(0.1800,0,0,0.2439,739.93,777.90)" font-family="'Liberation Serif', serif" font-size="100" fill="rgb(250,45,45)" stroke="#fff" stroke-width="1.19">1</text>
<text transform="matrix(0.2275,0,0,0.2439,751.84,777.90)" font-family="'Liberation Serif', serif" font-size="100" fill="rgb(250,45,45)" stroke="#fff" stroke-width="1.06">2</text>
<text transform="matrix(0.2275,0,0,0.2439,765.04,777.90)" font-family="'Liberation Serif', serif" font-size="100" fill="rgb(250,45,45)" stroke="#fff" stroke-width="1.06">2</text>
<text transform="matrix(0.1906,0,0,0.2439,777.48,777.90)" font-family="'Liberation Serif', serif" font-size="100" fill="rgb(250,45,45)" stroke="#fff" stroke-width="1.16">E</text>
<text transform="matrix(0.1800,0,0,0.2439,817.68,777.90)" font-family="'Liberation Serif', serif" font-size="100" fill="rgb(250,45,45)" stroke="#fff" stroke-width="1.19">1</text>
<text transform="matrix(0.2275,0,0,0.2439,829.59,777.90)" font-family="'Liberation Serif', serif" font-size="100" fill="rgb(250,45,45)" stroke="#fff" stroke-width="1.06">2</text>
<text transform="matrix(0.2220,0,0,0.2439,842.59,777.90)" font-family="'Liberation Serif', serif" font-size="100" fill="rgb(250,45,45)" stroke="#fff" stroke-width="1.07">3</text>
<text transform="matrix(0.1906,0,0,0.2439,855.23,777.90)" font-family="'Liberation Serif', serif" font-size="100" fill="rgb(250,45,45)" stroke="#fff" stroke-width="1.16">E</text>
<text transform="matrix(0.2731,0,0,0.2152,940.21,108.40)" font-family="'Liberation Serif', serif" font-size="100" fill="#000">(</text>
<text transform="matrix(0.2553,0,0,0.2152,949.74,108.40)" font-family="'Liberation Serif', serif" font-size="100" fill="#000">u</text>
<text transform="matrix(0.2136,0,0,0.2152,964.15,108.40)" font-family="'Liberation Serif', serif" font-size="100" fill="#000">g</text>
<text transform="matrix(0.4036,0,0,0.2152,977.30,108.40)" font-family="'Liberation Serif', serif" font-size="100" fill="#000">/</text>
<text transform="matrix(0.2568,0,0,0.2152,991.49,108.40)" font-family="'Liberation Serif', serif" font-size="100" fill="#000">m</text>
<text transform="matrix(0.2293,0,0,0.2152,1012.25,108.40)" font-family="'Liberation Serif', serif" font-size="100" fill="#000">3</text>
<text transform="matrix(0.2269,0,0,0.2152,1025.12,108.40)" font-family="'Liberation Serif', serif" font-size="100" fill="#000">)</text>
<text transform="matrix(0.1857,0,0,0.2121,941.83,778.00)" font-family="'Liberation Serif', serif" font-size="100" fill="#000">1</text>
<text transform="matrix(0.2262,0,0,0.2121,953.60,778.00)" font-family="'Liberation Serif', serif" font-size="100" fill="#000">0</text>
<text transform="matrix(0.2568,0,0,0.2121,978.49,778.00)" font-family="'Liberation Serif', serif" font-size="100" fill="#000">m</text>
<text transform="matrix(0.4286,0,0,0.2121,1000.00,778.00)" font-family="'Liberation Serif', serif" font-size="100" fill="#000">/</text>
<text transform="matrix(0.2581,0,0,0.2121,1013.97,778.00)" font-family="'Liberation Serif', serif" font-size="100" fill="#000">s</text>
<text transform="matrix(0.1901,0,0,0.2174,359.24,829.16)" font-family="'Liberation Sans', 'Noto Sans CJK SC', 'WenQuanYi Zen Hei', sans-serif" font-size="100" font-weight="300" fill="#000">版</text>
<text transform="matrix(0.1860,0,0,0.2174,379.44,829.16)" font-family="'Liberation Sans', 'Noto Sans CJK SC', 'WenQuanYi Zen Hei', sans-serif" font-size="100" font-weight="300" fill="#000">权</text>
<text transform="matrix(0.1945,0,0,0.2222,400.12,829.12)" font-family="'Liberation Sans', 'Noto Sans CJK SC', 'WenQuanYi Zen Hei', sans-serif" font-size="100" font-weight="300" fill="#000">所</text>
<text transform="matrix(0.2011,0,0,0.2174,419.89,829.16)" font-family="'Liberation Sans', 'Noto Sans CJK SC', 'WenQuanYi Zen Hei', sans-serif" font-size="100" font-weight="300" fill="#000">有</text>
<text transform="matrix(0.1500,0,0,0.2562,441.10,830.24)" font-family="'Liberation Serif', serif" font-size="100" fill="#000" stroke="#fff" stroke-width="1.28">:</text>
<text transform="matrix(0.2170,0,0,0.2174,451.80,829.16)" font-family="'Liberation Sans', 'Noto Sans CJK SC', 'WenQuanYi Zen Hei', sans-serif" font-size="100" font-weight="300" fill="#000">南</text>
<text transform="matrix(0.2195,0,0,0.2174,471.78,829.16)" font-family="'Liberation Sans', 'Noto Sans CJK SC', 'WenQuanYi Zen Hei', sans-serif" font-size="100" font-weight="300" fill="#000">京</text>
<text transform="matrix(0.2122,0,0,0.2174,492.14,829.16)" font-family="'Liberation Sans', 'Noto Sans CJK SC', 'WenQuanYi Zen Hei', sans-serif" font-size="100" font-weight="300" fill="#000">大</text>
<text transform="matrix(0.1955,0,0,0.2151,512.03,829.18)" font-family="'Liberation Sans', 'Noto Sans CJK SC', 'WenQuanYi Zen Hei', sans-serif" font-size="100" font-weight="300" fill="#000">学</text>
<text transform="matrix(0.1818,0,0,0.2174,544.91,829.16)" font-family="'Liberation Sans', 'Noto Sans CJK SC', 'WenQuanYi Zen Hei', sans-serif" font-size="100" font-weight="300" fill="#000">南</text>
<text transform="matrix(0.1839,0,0,0.2174,564.90,829.16)" font-family="'Liberation Sans', 'Noto Sans CJK SC', 'WenQuanYi Zen Hei', sans-serif" font-size="100" font-weight="300" fill="#000">京</text>
<text transform="matrix(0.1860,0,0,0.2222,585.26,829.34)" font-family="'Liberation Sans', 'Noto Sans CJK SC', 'WenQuanYi Zen Hei', sans-serif" font-size="100" font-weight="300" fill="#000">创</text>
<text transform="matrix(0.1778,0,0,0.2247,605.11,829.78)" font-family="'Liberation Sans', 'Noto Sans CJK SC', 'WenQuanYi Zen Hei', sans-serif" font-size="100" font-weight="300" fill="#000">蓝</text>
<text transform="matrix(0.1739,0,0,0.2174,624.30,829.16)" font-family="'Liberation Sans', 'Noto Sans CJK SC', 'WenQuanYi Zen Hei', sans-serif" font-size="100" font-weight="300" fill="#000">科</text>
<text transform="matrix(0.1889,0,0,0.2174,644.06,829.16)" font-family="'Liberation Sans', 'Noto Sans CJK SC', 'WenQuanYi Zen Hei', sans-serif" font-size="100" font-weight="300" fill="#000">技</text>
<text transform="matrix(0.1932,0,0,0.2174,664.03,829.16)" font-family="'Liberation Sans', 'Noto Sans CJK SC', 'WenQuanYi Zen Hei', sans-serif" font-size="100" font-weight="300" fill="#000">有</text>
<text transform="matrix(0.1882,0,0,0.2273,683.12,829.08)" font-family="'Liberation Sans', 'Noto Sans CJK SC', 'WenQuanYi Zen Hei', sans-serif" font-size="100" font-weight="300" fill="#000">限</text>
<text transform="matrix(0.1889,0,0,0.2299,703.87,829.52)" font-family="'Liberation Sans', 'Noto Sans CJK SC', 'WenQuanYi Zen Hei', sans-serif" font-size="100" font-weight="300" fill="#000">公</text>
<text transform="matrix(0.2025,0,0,0.2381,723.18,829.23)" font-family="'Liberation Sans', 'Noto Sans CJK SC', 'WenQuanYi Zen Hei', sans-serif" font-size="100" font-weight="300" fill="#000">司</text>
</svg></body></html>
